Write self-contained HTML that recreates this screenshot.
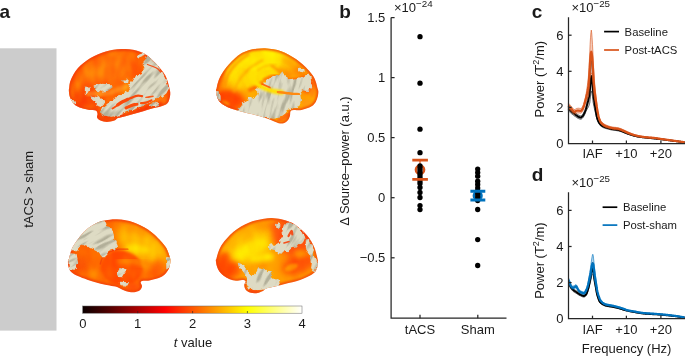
<!DOCTYPE html>
<html><head><meta charset="utf-8"><title>Figure</title>
<style>html,body{margin:0;padding:0;background:#fff}svg{display:block}text{font-family:"Liberation Sans",Arial,Helvetica,sans-serif;fill:#1a1a1a}</style></head><body>
<svg width="685" height="356" viewBox="0 0 685 356">
<rect width="685" height="356" fill="#fff"/>
<defs>
<linearGradient id="hot" x1="0" x2="1" y1="0" y2="0">
<stop offset="0" stop-color="#0b0000"/><stop offset="0.125" stop-color="#550000"/><stop offset="0.25" stop-color="#aa0000"/><stop offset="0.375" stop-color="#ff0000"/><stop offset="0.5" stop-color="#ff5500"/><stop offset="0.625" stop-color="#ffaa00"/><stop offset="0.75" stop-color="#ffff00"/><stop offset="0.875" stop-color="#ffff80"/><stop offset="1" stop-color="#ffffff"/>
</linearGradient>
</defs>

<text x="-0.6" y="17.8" font-size="19" font-weight="bold" fill="#000">a</text>
<text x="339.2" y="17.5" font-size="19" font-weight="bold" fill="#000">b</text>
<text x="531.8" y="17.5" font-size="19" font-weight="bold" fill="#000">c</text>
<text x="531.8" y="181.3" font-size="19" font-weight="bold" fill="#000">d</text>
<rect x="0" y="48.3" width="56.5" height="282.3" fill="#cccccc"/>
<text transform="translate(33.3,189.4) rotate(-90)" text-anchor="middle" font-size="13">tACS &gt; sham</text>
<defs>
<filter id="b05" color-interpolation-filters="sRGB" x="-30%" y="-30%" width="160%" height="160%"><feGaussianBlur stdDeviation="0.5"/></filter>
<filter id="b1" color-interpolation-filters="sRGB" x="-30%" y="-30%" width="160%" height="160%"><feGaussianBlur stdDeviation="1"/></filter>
<filter id="b2" color-interpolation-filters="sRGB" x="-30%" y="-30%" width="160%" height="160%"><feGaussianBlur stdDeviation="2"/></filter>
<filter id="b3" color-interpolation-filters="sRGB" x="-40%" y="-40%" width="180%" height="180%"><feGaussianBlur stdDeviation="3.2"/></filter>
<filter id="b5" color-interpolation-filters="sRGB" x="-50%" y="-50%" width="200%" height="200%"><feGaussianBlur stdDeviation="5"/></filter>
<filter id="rag" x="-10%" y="-10%" width="120%" height="120%" color-interpolation-filters="sRGB"><feTurbulence type="fractalNoise" baseFrequency="0.22" numOctaves="2" seed="4" result="n"/><feDisplacementMap in="SourceGraphic" in2="n" scale="4.5" xChannelSelector="R" yChannelSelector="G"/><feGaussianBlur stdDeviation="0.45"/></filter>
<filter id="gtex" x="0" y="0" width="100%" height="100%" color-interpolation-filters="sRGB"><feTurbulence type="fractalNoise" baseFrequency="0.04 0.21" numOctaves="2" seed="3"/><feColorMatrix type="matrix" values="0 0 0 0 0.872  0 0 0 0 0.858  0 0 0 0 0.77  5.5 0 0 0 -1.8" result="light"/><feFlood flood-color="#b2af99" result="dk"/><feComposite in="light" in2="dk" operator="over"/><feGaussianBlur stdDeviation="0.45"/></filter>
<filter id="otex" x="0" y="0" width="100%" height="100%" color-interpolation-filters="sRGB"><feTurbulence type="fractalNoise" baseFrequency="0.09 0.05" numOctaves="2" seed="11"/><feColorMatrix type="matrix" values="0 0 0 0 1  1.6 0 0 0 -0.45  0 0 0 0 0  0 0 0 0 1"/></filter>
</defs>
<clipPath id="bc1"><path d="M69.0 89.0C69.2 87.8 69.2 85.2 69.7 83.2C70.2 81.2 71.2 78.8 72.2 76.8C73.2 74.8 74.0 73.1 75.4 71.2C76.8 69.3 78.5 67.3 80.4 65.5C82.3 63.7 84.4 62.0 86.7 60.4C89.0 58.8 91.8 57.3 94.3 56.0C96.8 54.7 99.4 53.7 101.9 52.8C104.4 51.9 107.0 51.2 109.5 50.6C112.0 50.0 114.3 49.6 117.0 49.3C119.7 49.0 122.9 49.0 125.6 49.0C128.3 49.1 130.9 49.3 133.2 49.7C135.5 50.1 137.5 50.9 139.5 51.6C141.5 52.3 143.3 53.0 145.2 54.1C147.1 55.2 149.0 56.9 150.8 58.5C152.6 60.1 154.2 61.8 155.9 63.6C157.6 65.4 159.3 67.3 160.9 69.3C162.5 71.3 164.2 73.5 165.4 75.6C166.6 77.7 167.2 79.8 167.9 81.9C168.6 84.0 169.0 86.2 169.4 88.0C169.8 89.8 170.2 91.1 170.3 92.5C170.4 93.9 170.3 95.1 170.0 96.6C169.7 98.1 169.3 100.3 168.5 101.7C167.7 103.1 166.9 104.0 165.4 104.8C163.9 105.6 161.9 106.1 159.7 106.7C157.5 107.3 154.8 107.8 152.1 108.6C149.4 109.3 146.2 110.3 143.3 111.2C140.4 112.1 137.4 112.9 134.4 113.7C131.4 114.5 128.3 115.5 125.6 116.2C122.9 116.9 119.8 117.4 118.0 118.1C116.2 118.8 116.3 120.0 114.5 120.6C112.7 121.2 109.2 121.9 106.9 121.9C104.6 121.9 102.2 121.3 100.6 120.6C99.0 119.9 97.6 118.7 97.1 117.5C96.6 116.3 97.8 114.9 97.5 113.7C97.2 112.5 97.0 111.1 95.6 110.5C94.2 109.9 91.4 110.2 89.3 109.9C87.2 109.6 85.0 109.2 82.9 108.6C80.8 108.0 78.4 107.2 76.6 106.1C74.8 104.9 73.3 103.3 72.2 101.7C71.1 100.1 70.3 98.5 69.7 96.6C69.1 94.7 68.9 91.6 68.8 90.3C68.7 89.0 68.9 90.2 69.0 89.0Z"/></clipPath>
<mask id="gm1" maskUnits="userSpaceOnUse" x="66" y="46" width="108" height="79"><g filter="url(#rag)" fill="#fff" stroke="#fff" stroke-width="1.3" stroke-linejoin="round">
<path d="M147.7 55.5L150.0 56.5L152.1 60.4L157.2 66.1L162.2 73.0L165.4 79.4L167.3 85.7L167.9 89.0L166.0 92.8L162.2 96.0L159.7 94.7L157.2 96.6L154.6 99.2L150.0 101.8L146.0 104.3L140.0 106.3L134.0 108.7L128.0 110.8L122.0 113.2L116.0 115.6L110.0 116.2L104.0 114.8L100.6 112.0L103.0 108.3L108.0 104.0L114.0 100.0L120.0 96.0L126.0 92.5L130.0 90.5L129.1 87.6L131.6 82.6L134.4 78.0L138.0 75.5L142.0 73.7L145.2 68.0L143.3 62.9L146.4 59.2Z"/>
<path d="M94.3 85.9L100.6 84.3L110.7 84.9L112.0 87.0L108.2 89.8L101.9 91.2L96.8 90.2Z"/>
<path d="M91.2 96.0L95.6 97.9L99.4 96.6L101.9 100.4L104.5 102.0L101.9 106.7L98.1 105.5L95.6 101.7L92.4 99.2Z"/>
<path d="M85.5 87.2L89.9 88.4L88.0 91.6L85.5 94.1Z"/>
<path d="M70.9 100.4L74.7 101.1L75.4 104.2L72.2 103.6Z"/>
<path d="M123.0 80.0L128.0 80.3L127.5 82.5L123.5 82.3Z"/>
<path d="M137.0 56.2L144.5 53.4L145.0 54.4L138.0 57.2Z"/>
<path d="M150.0 105.0L158.0 102.5L158.5 104.0L151.0 106.5Z"/>
</g></mask>
<g clip-path="url(#bc1)">
<path d="M69.0 89.0C69.2 87.8 69.2 85.2 69.7 83.2C70.2 81.2 71.2 78.8 72.2 76.8C73.2 74.8 74.0 73.1 75.4 71.2C76.8 69.3 78.5 67.3 80.4 65.5C82.3 63.7 84.4 62.0 86.7 60.4C89.0 58.8 91.8 57.3 94.3 56.0C96.8 54.7 99.4 53.7 101.9 52.8C104.4 51.9 107.0 51.2 109.5 50.6C112.0 50.0 114.3 49.6 117.0 49.3C119.7 49.0 122.9 49.0 125.6 49.0C128.3 49.1 130.9 49.3 133.2 49.7C135.5 50.1 137.5 50.9 139.5 51.6C141.5 52.3 143.3 53.0 145.2 54.1C147.1 55.2 149.0 56.9 150.8 58.5C152.6 60.1 154.2 61.8 155.9 63.6C157.6 65.4 159.3 67.3 160.9 69.3C162.5 71.3 164.2 73.5 165.4 75.6C166.6 77.7 167.2 79.8 167.9 81.9C168.6 84.0 169.0 86.2 169.4 88.0C169.8 89.8 170.2 91.1 170.3 92.5C170.4 93.9 170.3 95.1 170.0 96.6C169.7 98.1 169.3 100.3 168.5 101.7C167.7 103.1 166.9 104.0 165.4 104.8C163.9 105.6 161.9 106.1 159.7 106.7C157.5 107.3 154.8 107.8 152.1 108.6C149.4 109.3 146.2 110.3 143.3 111.2C140.4 112.1 137.4 112.9 134.4 113.7C131.4 114.5 128.3 115.5 125.6 116.2C122.9 116.9 119.8 117.4 118.0 118.1C116.2 118.8 116.3 120.0 114.5 120.6C112.7 121.2 109.2 121.9 106.9 121.9C104.6 121.9 102.2 121.3 100.6 120.6C99.0 119.9 97.6 118.7 97.1 117.5C96.6 116.3 97.8 114.9 97.5 113.7C97.2 112.5 97.0 111.1 95.6 110.5C94.2 109.9 91.4 110.2 89.3 109.9C87.2 109.6 85.0 109.2 82.9 108.6C80.8 108.0 78.4 107.2 76.6 106.1C74.8 104.9 73.3 103.3 72.2 101.7C71.1 100.1 70.3 98.5 69.7 96.6C69.1 94.7 68.9 91.6 68.8 90.3C68.7 89.0 68.9 90.2 69.0 89.0Z" fill="#ff6a04"/>
<ellipse cx="105" cy="72" rx="30" ry="16" transform="rotate(-25 105 72)" fill="#ff780a" filter="url(#b5)" opacity="0.9"/>
<ellipse cx="86" cy="99" rx="17" ry="10" transform="rotate(12 86 99)" fill="#fb4604" filter="url(#b3)" opacity="1"/>
<ellipse cx="160" cy="100" rx="8" ry="6" transform="rotate(0 160 100)" fill="#ff7a10" filter="url(#b2)" opacity="0.9"/>
<path d="M88.0 93.5C90.0 93.5 96.0 94.0 100.0 93.8C104.0 93.5 107.7 93.2 112.0 92.0C116.3 90.8 123.7 87.4 126.0 86.5" fill="none" stroke="#ff8e1e" stroke-width="5" stroke-linecap="round" filter="url(#b1)" opacity="1"/>
<path d="M100.0 117.0C102.5 116.9 109.2 117.5 115.0 116.5C120.8 115.5 127.5 113.1 135.0 111.0C142.5 108.9 155.8 105.2 160.0 104.0" fill="none" stroke="#fa4406" stroke-width="5" stroke-linecap="round" filter="url(#b1)" opacity="0.9"/>
<ellipse cx="103" cy="117" rx="6" ry="4" transform="rotate(0 103 117)" fill="#fa4606" filter="url(#b2)" opacity="0.9"/>
<rect x="66" y="46" width="108" height="79" filter="url(#otex)" opacity="0.2"/>
<path d="M69.0 89.0C69.2 87.8 69.2 85.2 69.7 83.2C70.2 81.2 71.2 78.8 72.2 76.8C73.2 74.8 74.0 73.1 75.4 71.2C76.8 69.3 78.5 67.3 80.4 65.5C82.3 63.7 84.4 62.0 86.7 60.4C89.0 58.8 91.8 57.3 94.3 56.0C96.8 54.7 99.4 53.7 101.9 52.8C104.4 51.9 107.0 51.2 109.5 50.6C112.0 50.0 114.3 49.6 117.0 49.3C119.7 49.0 122.9 49.0 125.6 49.0C128.3 49.1 130.9 49.3 133.2 49.7C135.5 50.1 137.5 50.9 139.5 51.6C141.5 52.3 143.3 53.0 145.2 54.1C147.1 55.2 149.0 56.9 150.8 58.5C152.6 60.1 154.2 61.8 155.9 63.6C157.6 65.4 159.3 67.3 160.9 69.3C162.5 71.3 164.2 73.5 165.4 75.6C166.6 77.7 167.2 79.8 167.9 81.9C168.6 84.0 169.0 86.2 169.4 88.0C169.8 89.8 170.2 91.1 170.3 92.5C170.4 93.9 170.3 95.1 170.0 96.6C169.7 98.1 169.3 100.3 168.5 101.7C167.7 103.1 166.9 104.0 165.4 104.8C163.9 105.6 161.9 106.1 159.7 106.7C157.5 107.3 154.8 107.8 152.1 108.6C149.4 109.3 146.2 110.3 143.3 111.2C140.4 112.1 137.4 112.9 134.4 113.7C131.4 114.5 128.3 115.5 125.6 116.2C122.9 116.9 119.8 117.4 118.0 118.1C116.2 118.8 116.3 120.0 114.5 120.6C112.7 121.2 109.2 121.9 106.9 121.9C104.6 121.9 102.2 121.3 100.6 120.6C99.0 119.9 97.6 118.7 97.1 117.5C96.6 116.3 97.8 114.9 97.5 113.7C97.2 112.5 97.0 111.1 95.6 110.5C94.2 109.9 91.4 110.2 89.3 109.9C87.2 109.6 85.0 109.2 82.9 108.6C80.8 108.0 78.4 107.2 76.6 106.1C74.8 104.9 73.3 103.3 72.2 101.7C71.1 100.1 70.3 98.5 69.7 96.6C69.1 94.7 68.9 91.6 68.8 90.3C68.7 89.0 68.9 90.2 69.0 89.0Z" fill="none" stroke="#f0380c" stroke-width="3.5" filter="url(#b1)" opacity="0.8"/>
<g mask="url(#gm1)"><g transform="rotate(-48 120 85)"><rect x="45" y="10" width="150" height="150" fill="#cfccb4" filter="url(#gtex)"/></g></g>
<path d="M147.5 64.5C148.4 64.8 151.2 65.8 153.0 66.5C154.8 67.2 156.8 68.1 158.0 69.0C159.2 69.9 160.1 71.5 160.5 72.0" fill="none" stroke="#f5501a" stroke-width="1.3" stroke-linecap="round" filter="url(#b05)" opacity="1"/><path d="M117.7 104.8C118.6 104.2 121.3 102.4 123.0 101.5C124.7 100.6 127.0 99.7 127.8 99.3" fill="none" stroke="#fa4a0c" stroke-width="3.2" stroke-linecap="round" filter="url(#b05)" opacity="1"/><path d="M127.8 99.3C129.3 98.7 134.3 96.3 136.7 95.8C139.1 95.3 141.1 96.1 142.0 96.2" fill="none" stroke="#fa4a0c" stroke-width="2.2" stroke-linecap="round" filter="url(#b05)" opacity="1"/><path d="M126.0 108.0C127.2 107.5 131.1 105.6 132.9 105.0C134.7 104.4 136.3 104.3 137.0 104.2" fill="none" stroke="#fb4e0c" stroke-width="3" stroke-linecap="round" filter="url(#b05)" opacity="1"/><path d="M141.0 103.2C141.8 103.1 144.2 103.1 146.0 102.6C147.8 102.1 150.6 100.7 151.5 100.3" fill="none" stroke="#fb4e0c" stroke-width="2.2" stroke-linecap="round" filter="url(#b05)" opacity="1"/><path d="M112.5 108.5C113.4 107.9 117.1 105.6 118.0 105.0" fill="none" stroke="#fb4e0c" stroke-width="2" stroke-linecap="round" filter="url(#b05)" opacity="1"/><path d="M146.0 97.5C147.2 97.3 151.8 96.4 153.0 96.2" fill="none" stroke="#fb4e0c" stroke-width="1.6" stroke-linecap="round" filter="url(#b05)" opacity="0.9"/>
</g>
<path d="M69.0 89.0C69.2 87.8 69.2 85.2 69.7 83.2C70.2 81.2 71.2 78.8 72.2 76.8C73.2 74.8 74.0 73.1 75.4 71.2C76.8 69.3 78.5 67.3 80.4 65.5C82.3 63.7 84.4 62.0 86.7 60.4C89.0 58.8 91.8 57.3 94.3 56.0C96.8 54.7 99.4 53.7 101.9 52.8C104.4 51.9 107.0 51.2 109.5 50.6C112.0 50.0 114.3 49.6 117.0 49.3C119.7 49.0 122.9 49.0 125.6 49.0C128.3 49.1 130.9 49.3 133.2 49.7C135.5 50.1 137.5 50.9 139.5 51.6C141.5 52.3 143.3 53.0 145.2 54.1C147.1 55.2 149.0 56.9 150.8 58.5C152.6 60.1 154.2 61.8 155.9 63.6C157.6 65.4 159.3 67.3 160.9 69.3C162.5 71.3 164.2 73.5 165.4 75.6C166.6 77.7 167.2 79.8 167.9 81.9C168.6 84.0 169.0 86.2 169.4 88.0C169.8 89.8 170.2 91.1 170.3 92.5C170.4 93.9 170.3 95.1 170.0 96.6C169.7 98.1 169.3 100.3 168.5 101.7C167.7 103.1 166.9 104.0 165.4 104.8C163.9 105.6 161.9 106.1 159.7 106.7C157.5 107.3 154.8 107.8 152.1 108.6C149.4 109.3 146.2 110.3 143.3 111.2C140.4 112.1 137.4 112.9 134.4 113.7C131.4 114.5 128.3 115.5 125.6 116.2C122.9 116.9 119.8 117.4 118.0 118.1C116.2 118.8 116.3 120.0 114.5 120.6C112.7 121.2 109.2 121.9 106.9 121.9C104.6 121.9 102.2 121.3 100.6 120.6C99.0 119.9 97.6 118.7 97.1 117.5C96.6 116.3 97.8 114.9 97.5 113.7C97.2 112.5 97.0 111.1 95.6 110.5C94.2 109.9 91.4 110.2 89.3 109.9C87.2 109.6 85.0 109.2 82.9 108.6C80.8 108.0 78.4 107.2 76.6 106.1C74.8 104.9 73.3 103.3 72.2 101.7C71.1 100.1 70.3 98.5 69.7 96.6C69.1 94.7 68.9 91.6 68.8 90.3C68.7 89.0 68.9 90.2 69.0 89.0Z" fill="none" stroke="#fff" stroke-opacity="0.12" stroke-width="0.6"/>
<clipPath id="bc2"><path d="M216.4 89.0C216.7 87.8 217.1 85.2 217.7 83.2C218.3 81.2 219.1 78.9 220.2 76.8C221.2 74.7 222.5 72.6 224.0 70.5C225.5 68.4 227.2 66.2 229.0 64.2C230.8 62.2 232.7 60.3 234.7 58.5C236.7 56.7 238.7 54.9 241.0 53.5C243.3 52.1 246.1 51.1 248.6 50.3C251.1 49.5 253.5 49.1 256.2 48.8C258.9 48.4 262.1 48.1 265.0 48.2C267.9 48.3 270.9 48.8 273.6 49.3C276.3 49.8 278.7 50.4 281.2 51.3C283.7 52.2 286.2 53.4 288.7 54.7C291.2 56.0 294.0 57.6 296.3 59.2C298.6 60.8 300.5 62.3 302.6 64.2C304.7 66.1 307.1 68.5 308.9 70.5C310.7 72.5 312.2 74.3 313.4 76.2C314.6 78.1 315.2 79.9 315.9 81.9C316.6 83.9 317.1 86.4 317.5 88.0C317.9 89.6 318.3 90.1 318.4 91.5C318.4 92.9 318.2 94.9 317.8 96.6C317.4 98.3 316.8 100.1 315.9 101.7C314.9 103.3 313.7 104.9 312.1 106.1C310.5 107.2 308.4 107.9 306.4 108.6C304.4 109.3 302.2 110.1 300.1 110.3C298.0 110.5 295.4 109.8 293.8 109.9C292.2 110.1 291.2 110.2 290.6 111.2C290.0 112.2 290.4 114.1 290.0 115.6C289.6 117.1 289.2 118.7 288.1 120.0C287.1 121.3 285.3 122.7 283.7 123.2C282.1 123.7 280.3 123.5 278.6 123.2C276.9 122.9 275.4 122.0 273.6 121.3C271.8 120.5 269.9 119.5 267.6 118.7C265.3 117.9 262.5 116.9 260.0 116.2C257.5 115.5 254.9 114.9 252.4 114.3C249.9 113.7 247.3 113.0 244.8 112.4C242.3 111.8 239.6 111.1 237.3 110.5C235.0 109.9 233.0 109.4 230.9 108.6C228.8 107.8 226.5 106.7 224.6 105.5C222.7 104.3 220.9 103.2 219.6 101.7C218.3 100.2 217.6 98.5 217.0 96.6C216.4 94.7 216.1 91.6 216.0 90.3C215.9 89.0 216.1 90.2 216.4 89.0Z"/></clipPath>
<mask id="gm2" maskUnits="userSpaceOnUse" x="213" y="45" width="108" height="81"><g filter="url(#rag)" fill="#fff" stroke="#fff" stroke-width="1.3" stroke-linejoin="round">
<path d="M237.3 111.0L241.7 106.7L243.6 103.6L248.6 101.0L249.9 96.6L253.0 99.8L258.7 96.6L259.4 92.8L256.8 90.3L260.6 87.8L266.0 81.9L271.0 78.1L274.8 75.6L278.6 77.5L281.8 73.0L285.0 75.6L286.8 80.0L292.5 79.4L298.8 78.1L303.9 78.1L308.9 74.3L310.8 76.8L311.5 81.9L310.2 89.0L307.7 90.3L301.4 89.7L299.5 94.1L300.7 100.4L298.8 105.5L291.3 108.6L287.5 109.3L285.0 113.0L279.9 116.8L273.6 118.1L269.8 117.5L262.0 117.0L252.0 114.5L244.0 112.8Z"/>
<path d="M215.0 91.6L219.5 92.0L220.2 99.2L217.0 98.5Z"/>
<path d="M299.0 68.5L302.0 69.0L303.0 71.5L300.0 71.0Z"/>
</g></mask>
<g clip-path="url(#bc2)">
<path d="M216.4 89.0C216.7 87.8 217.1 85.2 217.7 83.2C218.3 81.2 219.1 78.9 220.2 76.8C221.2 74.7 222.5 72.6 224.0 70.5C225.5 68.4 227.2 66.2 229.0 64.2C230.8 62.2 232.7 60.3 234.7 58.5C236.7 56.7 238.7 54.9 241.0 53.5C243.3 52.1 246.1 51.1 248.6 50.3C251.1 49.5 253.5 49.1 256.2 48.8C258.9 48.4 262.1 48.1 265.0 48.2C267.9 48.3 270.9 48.8 273.6 49.3C276.3 49.8 278.7 50.4 281.2 51.3C283.7 52.2 286.2 53.4 288.7 54.7C291.2 56.0 294.0 57.6 296.3 59.2C298.6 60.8 300.5 62.3 302.6 64.2C304.7 66.1 307.1 68.5 308.9 70.5C310.7 72.5 312.2 74.3 313.4 76.2C314.6 78.1 315.2 79.9 315.9 81.9C316.6 83.9 317.1 86.4 317.5 88.0C317.9 89.6 318.3 90.1 318.4 91.5C318.4 92.9 318.2 94.9 317.8 96.6C317.4 98.3 316.8 100.1 315.9 101.7C314.9 103.3 313.7 104.9 312.1 106.1C310.5 107.2 308.4 107.9 306.4 108.6C304.4 109.3 302.2 110.1 300.1 110.3C298.0 110.5 295.4 109.8 293.8 109.9C292.2 110.1 291.2 110.2 290.6 111.2C290.0 112.2 290.4 114.1 290.0 115.6C289.6 117.1 289.2 118.7 288.1 120.0C287.1 121.3 285.3 122.7 283.7 123.2C282.1 123.7 280.3 123.5 278.6 123.2C276.9 122.9 275.4 122.0 273.6 121.3C271.8 120.5 269.9 119.5 267.6 118.7C265.3 117.9 262.5 116.9 260.0 116.2C257.5 115.5 254.9 114.9 252.4 114.3C249.9 113.7 247.3 113.0 244.8 112.4C242.3 111.8 239.6 111.1 237.3 110.5C235.0 109.9 233.0 109.4 230.9 108.6C228.8 107.8 226.5 106.7 224.6 105.5C222.7 104.3 220.9 103.2 219.6 101.7C218.3 100.2 217.6 98.5 217.0 96.6C216.4 94.7 216.1 91.6 216.0 90.3C215.9 89.0 216.1 90.2 216.4 89.0Z" fill="#ffac00"/>
<ellipse cx="258" cy="66" rx="38" ry="18" transform="rotate(-14 258 66)" fill="#ffec00" filter="url(#b3)" opacity="1"/>
<ellipse cx="262" cy="60" rx="27" ry="10" transform="rotate(-5 262 60)" fill="#fff200" filter="url(#b2)" opacity="1"/>
<ellipse cx="246" cy="72" rx="16" ry="9" transform="rotate(-40 246 72)" fill="#ffee00" filter="url(#b2)" opacity="0.9"/>
<ellipse cx="244" cy="80" rx="20" ry="7" transform="rotate(-38 244 80)" fill="#ffd800" filter="url(#b3)" opacity="0.9"/>
<ellipse cx="253" cy="77" rx="9" ry="7" transform="rotate(-50 253 77)" fill="#ffe800" filter="url(#b2)" opacity="1"/>
<ellipse cx="262" cy="62" rx="22" ry="8" transform="rotate(-8 262 62)" fill="#fff400" filter="url(#b1)" opacity="0.85"/>
<ellipse cx="229" cy="100" rx="17" ry="10" transform="rotate(12 229 100)" fill="#ff4800" filter="url(#b3)" opacity="1"/>
<ellipse cx="226" cy="98" rx="10" ry="6" transform="rotate(12 226 98)" fill="#ff4600" filter="url(#b2)" opacity="0.9"/>
<ellipse cx="221" cy="80" rx="4" ry="12" transform="rotate(12 221 80)" fill="#ff7200" filter="url(#b2)" opacity="0.8"/>
<ellipse cx="225" cy="103.5" rx="4.5" ry="2.2" transform="rotate(20 225 103.5)" fill="#ff9a00" filter="url(#b1)" opacity="0.95"/>
<ellipse cx="292" cy="64" rx="12" ry="6" transform="rotate(35 292 64)" fill="#ffb000" filter="url(#b3)" opacity="1"/>
<ellipse cx="300" cy="72" rx="7" ry="4" transform="rotate(40 300 72)" fill="#ff8a00" filter="url(#b2)" opacity="0.9"/>
<ellipse cx="284" cy="72" rx="8" ry="3.5" transform="rotate(30 284 72)" fill="#ff7a00" filter="url(#b2)" opacity="0.6"/>
<ellipse cx="307" cy="84" rx="7" ry="9" transform="rotate(0 307 84)" fill="#ff4810" filter="url(#b2)" opacity="0.95"/>
<ellipse cx="312.5" cy="92" rx="2.6" ry="5.5" transform="rotate(5 312.5 92)" fill="#ff8c10" filter="url(#b1)" opacity="0.9"/>
<ellipse cx="306.5" cy="103" rx="4.5" ry="3.5" transform="rotate(-20 306.5 103)" fill="#ffa010" filter="url(#b1)" opacity="0.95"/>
<path d="M243.8 70.0C244.0 71.3 244.4 75.5 245.0 78.0C245.6 80.5 247.2 84.1 247.6 85.3" fill="none" stroke="#ffe600" stroke-width="3.5" stroke-linecap="round" filter="url(#b1)" opacity="0.9"/>
<path d="M224.0 86.0C224.8 83.8 226.7 77.0 229.0 73.0C231.3 69.0 234.8 65.1 238.0 62.0C241.2 58.9 246.3 55.8 248.0 54.5" fill="none" stroke="#ff9800" stroke-width="3" stroke-linecap="round" filter="url(#b1)" opacity="0.7"/>
<path d="M234.0 91.0C235.0 89.0 237.3 82.8 240.0 79.0C242.7 75.2 246.3 71.1 250.0 68.0C253.7 64.9 260.0 61.8 262.0 60.5" fill="none" stroke="#ffa400" stroke-width="2.6" stroke-linecap="round" filter="url(#b1)" opacity="0.6"/>
<path d="M258.0 70.0C259.3 69.3 263.0 66.8 266.0 66.0C269.0 65.2 274.3 65.2 276.0 65.0" fill="none" stroke="#ffae00" stroke-width="2.2" stroke-linecap="round" filter="url(#b1)" opacity="0.5"/>
<path d="M272.0 66.0C273.2 66.8 277.2 69.2 279.0 71.0C280.8 72.8 282.3 76.0 283.0 77.0" fill="none" stroke="#ff9000" stroke-width="2.5" stroke-linecap="round" filter="url(#b1)" opacity="0.7"/>
<path d="M250.0 90.0C251.3 89.3 256.0 87.2 258.0 86.0C260.0 84.8 261.3 83.5 262.0 83.0" fill="none" stroke="#ff5a00" stroke-width="3.5" stroke-linecap="round" filter="url(#b1)" opacity="0.8"/>
<path d="M264.0 80.0C265.8 79.3 270.7 76.0 275.0 76.0C279.3 76.0 285.0 79.7 290.0 80.0C295.0 80.3 302.5 78.3 305.0 78.0" fill="none" stroke="#ff4a08" stroke-width="3" stroke-linecap="round" filter="url(#b1)" opacity="0.7"/>
<path d="M280.0 119.5C281.2 118.8 285.8 115.8 287.0 115.0" fill="none" stroke="#ff6a10" stroke-width="5" stroke-linecap="round" filter="url(#b1)" opacity="0.9"/>
<rect x="213" y="45" width="108" height="81" filter="url(#otex)" opacity="0.08"/>
<path d="M216.4 89.0C216.7 87.8 217.1 85.2 217.7 83.2C218.3 81.2 219.1 78.9 220.2 76.8C221.2 74.7 222.5 72.6 224.0 70.5C225.5 68.4 227.2 66.2 229.0 64.2C230.8 62.2 232.7 60.3 234.7 58.5C236.7 56.7 238.7 54.9 241.0 53.5C243.3 52.1 246.1 51.1 248.6 50.3C251.1 49.5 253.5 49.1 256.2 48.8C258.9 48.4 262.1 48.1 265.0 48.2C267.9 48.3 270.9 48.8 273.6 49.3C276.3 49.8 278.7 50.4 281.2 51.3C283.7 52.2 286.2 53.4 288.7 54.7C291.2 56.0 294.0 57.6 296.3 59.2C298.6 60.8 300.5 62.3 302.6 64.2C304.7 66.1 307.1 68.5 308.9 70.5C310.7 72.5 312.2 74.3 313.4 76.2C314.6 78.1 315.2 79.9 315.9 81.9C316.6 83.9 317.1 86.4 317.5 88.0C317.9 89.6 318.3 90.1 318.4 91.5C318.4 92.9 318.2 94.9 317.8 96.6C317.4 98.3 316.8 100.1 315.9 101.7C314.9 103.3 313.7 104.9 312.1 106.1C310.5 107.2 308.4 107.9 306.4 108.6C304.4 109.3 302.2 110.1 300.1 110.3C298.0 110.5 295.4 109.8 293.8 109.9C292.2 110.1 291.2 110.2 290.6 111.2C290.0 112.2 290.4 114.1 290.0 115.6C289.6 117.1 289.2 118.7 288.1 120.0C287.1 121.3 285.3 122.7 283.7 123.2C282.1 123.7 280.3 123.5 278.6 123.2C276.9 122.9 275.4 122.0 273.6 121.3C271.8 120.5 269.9 119.5 267.6 118.7C265.3 117.9 262.5 116.9 260.0 116.2C257.5 115.5 254.9 114.9 252.4 114.3C249.9 113.7 247.3 113.0 244.8 112.4C242.3 111.8 239.6 111.1 237.3 110.5C235.0 109.9 233.0 109.4 230.9 108.6C228.8 107.8 226.5 106.7 224.6 105.5C222.7 104.3 220.9 103.2 219.6 101.7C218.3 100.2 217.6 98.5 217.0 96.6C216.4 94.7 216.1 91.6 216.0 90.3C215.9 89.0 216.1 90.2 216.4 89.0Z" fill="none" stroke="#f0380c" stroke-width="3.5" filter="url(#b1)" opacity="0.8"/>
<g mask="url(#gm2)"><g transform="rotate(-75 267 86)"><rect x="192" y="11" width="150" height="150" fill="#cfccb4" filter="url(#gtex)"/></g></g>
<path d="M252.6 72.6C252.8 73.9 252.8 78.1 253.9 80.2C255.0 82.3 257.1 83.9 259.0 85.3C260.9 86.7 263.0 87.5 265.3 88.4C267.6 89.4 270.1 90.3 272.8 91.0C275.5 91.7 280.2 92.2 281.7 92.4" fill="none" stroke="#ffe000" stroke-width="4.6" stroke-linecap="round" filter="url(#b1)" opacity="1"/><path d="M278.0 92.0C279.3 92.2 283.7 92.7 286.0 93.0C288.3 93.3 289.8 93.6 292.0 93.8C294.2 94.0 297.8 94.2 299.0 94.3" fill="none" stroke="#ff8a10" stroke-width="2.6" stroke-linecap="round" filter="url(#b05)" opacity="1"/><path d="M262.0 84.0C263.3 84.6 268.7 87.0 270.0 87.6" fill="none" stroke="#ff5a08" stroke-width="1.6" stroke-linecap="round" filter="url(#b05)" opacity="0.9"/>
</g>
<path d="M216.4 89.0C216.7 87.8 217.1 85.2 217.7 83.2C218.3 81.2 219.1 78.9 220.2 76.8C221.2 74.7 222.5 72.6 224.0 70.5C225.5 68.4 227.2 66.2 229.0 64.2C230.8 62.2 232.7 60.3 234.7 58.5C236.7 56.7 238.7 54.9 241.0 53.5C243.3 52.1 246.1 51.1 248.6 50.3C251.1 49.5 253.5 49.1 256.2 48.8C258.9 48.4 262.1 48.1 265.0 48.2C267.9 48.3 270.9 48.8 273.6 49.3C276.3 49.8 278.7 50.4 281.2 51.3C283.7 52.2 286.2 53.4 288.7 54.7C291.2 56.0 294.0 57.6 296.3 59.2C298.6 60.8 300.5 62.3 302.6 64.2C304.7 66.1 307.1 68.5 308.9 70.5C310.7 72.5 312.2 74.3 313.4 76.2C314.6 78.1 315.2 79.9 315.9 81.9C316.6 83.9 317.1 86.4 317.5 88.0C317.9 89.6 318.3 90.1 318.4 91.5C318.4 92.9 318.2 94.9 317.8 96.6C317.4 98.3 316.8 100.1 315.9 101.7C314.9 103.3 313.7 104.9 312.1 106.1C310.5 107.2 308.4 107.9 306.4 108.6C304.4 109.3 302.2 110.1 300.1 110.3C298.0 110.5 295.4 109.8 293.8 109.9C292.2 110.1 291.2 110.2 290.6 111.2C290.0 112.2 290.4 114.1 290.0 115.6C289.6 117.1 289.2 118.7 288.1 120.0C287.1 121.3 285.3 122.7 283.7 123.2C282.1 123.7 280.3 123.5 278.6 123.2C276.9 122.9 275.4 122.0 273.6 121.3C271.8 120.5 269.9 119.5 267.6 118.7C265.3 117.9 262.5 116.9 260.0 116.2C257.5 115.5 254.9 114.9 252.4 114.3C249.9 113.7 247.3 113.0 244.8 112.4C242.3 111.8 239.6 111.1 237.3 110.5C235.0 109.9 233.0 109.4 230.9 108.6C228.8 107.8 226.5 106.7 224.6 105.5C222.7 104.3 220.9 103.2 219.6 101.7C218.3 100.2 217.6 98.5 217.0 96.6C216.4 94.7 216.1 91.6 216.0 90.3C215.9 89.0 216.1 90.2 216.4 89.0Z" fill="none" stroke="#fff" stroke-opacity="0.12" stroke-width="0.6"/>
<clipPath id="bc3"><path d="M69.0 259.0C69.4 257.8 69.7 255.2 70.3 253.2C70.9 251.2 71.5 249.1 72.8 246.8C74.1 244.5 76.2 241.6 77.9 239.3C79.6 237.0 81.0 234.9 82.9 232.9C84.8 230.9 87.2 228.9 89.3 227.3C91.4 225.7 93.5 224.6 95.6 223.5C97.7 222.4 99.6 221.5 101.9 220.9C104.2 220.3 107.0 220.0 109.5 219.7C112.0 219.4 114.3 219.2 117.0 219.3C119.7 219.4 122.9 219.8 125.6 220.3C128.3 220.8 130.7 221.3 133.2 222.2C135.7 223.0 138.2 224.1 140.7 225.4C143.2 226.7 146.0 228.2 148.3 229.8C150.6 231.4 152.5 232.9 154.6 234.8C156.7 236.7 159.0 239.1 160.9 241.2C162.8 243.3 164.7 245.5 166.0 247.5C167.3 249.5 167.8 251.4 168.5 253.2C169.2 254.9 169.7 256.7 170.0 258.0C170.3 259.3 170.4 259.8 170.4 261.0C170.4 262.2 170.2 263.8 169.8 265.4C169.4 267.0 169.0 268.7 167.9 270.4C166.8 272.1 165.3 274.1 163.5 275.5C161.7 276.9 159.5 277.8 157.2 278.6C154.9 279.4 151.9 280.1 149.6 280.5C147.3 280.9 144.8 280.5 143.3 280.8C141.8 281.1 140.9 281.5 140.7 282.4C140.5 283.3 142.1 284.9 142.0 286.2C141.9 287.5 141.2 289.1 140.1 290.0C139.0 290.9 137.5 291.6 135.7 291.9C133.9 292.2 131.5 292.2 129.4 291.9C127.3 291.6 125.1 290.8 123.0 290.0C120.9 289.2 119.2 287.8 117.0 287.1C114.8 286.4 112.2 286.2 109.5 285.6C106.8 285.0 103.5 284.4 100.6 283.7C97.6 283.0 94.5 282.0 91.8 281.2C89.1 280.4 86.7 279.6 84.2 278.6C81.7 277.7 78.8 276.6 76.6 275.5C74.4 274.4 72.3 273.2 70.9 271.7C69.5 270.2 68.9 268.5 68.4 266.6C67.9 264.7 67.9 261.6 68.0 260.3C68.1 259.0 68.7 260.2 69.0 259.0Z"/></clipPath>
<mask id="gm3" maskUnits="userSpaceOnUse" x="65" y="216" width="108" height="79"><g filter="url(#rag)" fill="#fff" stroke="#fff" stroke-width="1.3" stroke-linejoin="round">
<path d="M70.0 250.0L74.0 237.0L80.0 229.0L87.0 223.5L94.0 219.5L101.9 218.0L104.4 222.2L105.7 226.6L110.7 227.9L112.6 232.9L113.9 239.3L117.0 245.6L114.5 248.7L109.5 250.0L105.7 254.4L101.9 255.7L99.4 251.9L94.3 249.4L89.3 246.8L85.5 244.3L82.9 245.6L80.4 242.4L79.2 246.8L76.6 250.6L74.1 249.4Z"/>
<path d="M68.5 254.0L76.0 254.5L77.5 262.0L75.0 269.0L69.5 268.0Z"/>
<path d="M117.5 271.5L120.0 268.5L123.0 269.5L125.0 271.0L123.0 274.0L121.5 276.5L118.5 276.0Z"/>
<path d="M120.5 282.4L128.0 283.0L127.0 285.0L121.0 284.6Z"/>
<path d="M166.6 258.0L170.5 257.8L170.5 269.2L167.0 268.0Z"/>
<path d="M101.0 254.0L105.0 253.5L104.5 256.5L101.5 256.5Z"/>
</g></mask>
<g clip-path="url(#bc3)">
<path d="M69.0 259.0C69.4 257.8 69.7 255.2 70.3 253.2C70.9 251.2 71.5 249.1 72.8 246.8C74.1 244.5 76.2 241.6 77.9 239.3C79.6 237.0 81.0 234.9 82.9 232.9C84.8 230.9 87.2 228.9 89.3 227.3C91.4 225.7 93.5 224.6 95.6 223.5C97.7 222.4 99.6 221.5 101.9 220.9C104.2 220.3 107.0 220.0 109.5 219.7C112.0 219.4 114.3 219.2 117.0 219.3C119.7 219.4 122.9 219.8 125.6 220.3C128.3 220.8 130.7 221.3 133.2 222.2C135.7 223.0 138.2 224.1 140.7 225.4C143.2 226.7 146.0 228.2 148.3 229.8C150.6 231.4 152.5 232.9 154.6 234.8C156.7 236.7 159.0 239.1 160.9 241.2C162.8 243.3 164.7 245.5 166.0 247.5C167.3 249.5 167.8 251.4 168.5 253.2C169.2 254.9 169.7 256.7 170.0 258.0C170.3 259.3 170.4 259.8 170.4 261.0C170.4 262.2 170.2 263.8 169.8 265.4C169.4 267.0 169.0 268.7 167.9 270.4C166.8 272.1 165.3 274.1 163.5 275.5C161.7 276.9 159.5 277.8 157.2 278.6C154.9 279.4 151.9 280.1 149.6 280.5C147.3 280.9 144.8 280.5 143.3 280.8C141.8 281.1 140.9 281.5 140.7 282.4C140.5 283.3 142.1 284.9 142.0 286.2C141.9 287.5 141.2 289.1 140.1 290.0C139.0 290.9 137.5 291.6 135.7 291.9C133.9 292.2 131.5 292.2 129.4 291.9C127.3 291.6 125.1 290.8 123.0 290.0C120.9 289.2 119.2 287.8 117.0 287.1C114.8 286.4 112.2 286.2 109.5 285.6C106.8 285.0 103.5 284.4 100.6 283.7C97.6 283.0 94.5 282.0 91.8 281.2C89.1 280.4 86.7 279.6 84.2 278.6C81.7 277.7 78.8 276.6 76.6 275.5C74.4 274.4 72.3 273.2 70.9 271.7C69.5 270.2 68.9 268.5 68.4 266.6C67.9 264.7 67.9 261.6 68.0 260.3C68.1 259.0 68.7 260.2 69.0 259.0Z" fill="#ff6e00"/>
<ellipse cx="146" cy="246" rx="34" ry="20" transform="rotate(30 146 246)" fill="#ffa600" filter="url(#b3)" opacity="1"/>
<ellipse cx="144" cy="247" rx="26" ry="11" transform="rotate(24 144 247)" fill="#ffc400" filter="url(#b3)" opacity="1"/>
<ellipse cx="137" cy="248.8" rx="12" ry="4.3" transform="rotate(8 137 248.8)" fill="#ffe800" filter="url(#b2)" opacity="1"/>
<ellipse cx="121.5" cy="268" rx="21" ry="17" transform="rotate(8 121.5 268)" fill="#ff4e02" filter="url(#b1)" opacity="0.95"/>
<path d="M120.0 261.0C122.5 261.1 129.7 260.7 135.0 261.5C140.3 262.3 149.2 265.2 152.0 266.0" fill="none" stroke="#ff8a00" stroke-width="6" stroke-linecap="round" filter="url(#b2)" opacity="0.85"/>
<path d="M100.3 264.0C100.7 262.9 100.9 259.8 102.6 257.7C104.2 255.6 107.5 253.0 110.2 251.6C112.9 250.2 116.0 249.6 119.0 249.2C122.0 248.8 126.4 249.2 127.9 249.2" fill="none" stroke="#f2400a" stroke-width="1.3" stroke-linecap="round" filter="url(#b05)" opacity="0.8"/>
<ellipse cx="95" cy="274" rx="8" ry="4" transform="rotate(15 95 274)" fill="#ff8a00" filter="url(#b2)" opacity="0.7"/>
<ellipse cx="133" cy="287" rx="8" ry="4" transform="rotate(0 133 287)" fill="#ff5a0a" filter="url(#b2)" opacity="0.9"/>
<ellipse cx="80" cy="264" rx="9" ry="9" transform="rotate(0 80 264)" fill="#fb4806" filter="url(#b3)" opacity="0.9"/>
<ellipse cx="158" cy="268" rx="9" ry="7" transform="rotate(-30 158 268)" fill="#ff5c06" filter="url(#b3)" opacity="0.8"/>
<rect x="65" y="216" width="108" height="79" filter="url(#otex)" opacity="0.1"/>
<path d="M69.0 259.0C69.4 257.8 69.7 255.2 70.3 253.2C70.9 251.2 71.5 249.1 72.8 246.8C74.1 244.5 76.2 241.6 77.9 239.3C79.6 237.0 81.0 234.9 82.9 232.9C84.8 230.9 87.2 228.9 89.3 227.3C91.4 225.7 93.5 224.6 95.6 223.5C97.7 222.4 99.6 221.5 101.9 220.9C104.2 220.3 107.0 220.0 109.5 219.7C112.0 219.4 114.3 219.2 117.0 219.3C119.7 219.4 122.9 219.8 125.6 220.3C128.3 220.8 130.7 221.3 133.2 222.2C135.7 223.0 138.2 224.1 140.7 225.4C143.2 226.7 146.0 228.2 148.3 229.8C150.6 231.4 152.5 232.9 154.6 234.8C156.7 236.7 159.0 239.1 160.9 241.2C162.8 243.3 164.7 245.5 166.0 247.5C167.3 249.5 167.8 251.4 168.5 253.2C169.2 254.9 169.7 256.7 170.0 258.0C170.3 259.3 170.4 259.8 170.4 261.0C170.4 262.2 170.2 263.8 169.8 265.4C169.4 267.0 169.0 268.7 167.9 270.4C166.8 272.1 165.3 274.1 163.5 275.5C161.7 276.9 159.5 277.8 157.2 278.6C154.9 279.4 151.9 280.1 149.6 280.5C147.3 280.9 144.8 280.5 143.3 280.8C141.8 281.1 140.9 281.5 140.7 282.4C140.5 283.3 142.1 284.9 142.0 286.2C141.9 287.5 141.2 289.1 140.1 290.0C139.0 290.9 137.5 291.6 135.7 291.9C133.9 292.2 131.5 292.2 129.4 291.9C127.3 291.6 125.1 290.8 123.0 290.0C120.9 289.2 119.2 287.8 117.0 287.1C114.8 286.4 112.2 286.2 109.5 285.6C106.8 285.0 103.5 284.4 100.6 283.7C97.6 283.0 94.5 282.0 91.8 281.2C89.1 280.4 86.7 279.6 84.2 278.6C81.7 277.7 78.8 276.6 76.6 275.5C74.4 274.4 72.3 273.2 70.9 271.7C69.5 270.2 68.9 268.5 68.4 266.6C67.9 264.7 67.9 261.6 68.0 260.3C68.1 259.0 68.7 260.2 69.0 259.0Z" fill="none" stroke="#f0380c" stroke-width="3.5" filter="url(#b1)" opacity="0.8"/>
<g mask="url(#gm3)"><g transform="rotate(-30 119 256)"><rect x="44" y="181" width="150" height="150" fill="#cfccb4" filter="url(#gtex)"/></g></g>

</g>
<path d="M69.0 259.0C69.4 257.8 69.7 255.2 70.3 253.2C70.9 251.2 71.5 249.1 72.8 246.8C74.1 244.5 76.2 241.6 77.9 239.3C79.6 237.0 81.0 234.9 82.9 232.9C84.8 230.9 87.2 228.9 89.3 227.3C91.4 225.7 93.5 224.6 95.6 223.5C97.7 222.4 99.6 221.5 101.9 220.9C104.2 220.3 107.0 220.0 109.5 219.7C112.0 219.4 114.3 219.2 117.0 219.3C119.7 219.4 122.9 219.8 125.6 220.3C128.3 220.8 130.7 221.3 133.2 222.2C135.7 223.0 138.2 224.1 140.7 225.4C143.2 226.7 146.0 228.2 148.3 229.8C150.6 231.4 152.5 232.9 154.6 234.8C156.7 236.7 159.0 239.1 160.9 241.2C162.8 243.3 164.7 245.5 166.0 247.5C167.3 249.5 167.8 251.4 168.5 253.2C169.2 254.9 169.7 256.7 170.0 258.0C170.3 259.3 170.4 259.8 170.4 261.0C170.4 262.2 170.2 263.8 169.8 265.4C169.4 267.0 169.0 268.7 167.9 270.4C166.8 272.1 165.3 274.1 163.5 275.5C161.7 276.9 159.5 277.8 157.2 278.6C154.9 279.4 151.9 280.1 149.6 280.5C147.3 280.9 144.8 280.5 143.3 280.8C141.8 281.1 140.9 281.5 140.7 282.4C140.5 283.3 142.1 284.9 142.0 286.2C141.9 287.5 141.2 289.1 140.1 290.0C139.0 290.9 137.5 291.6 135.7 291.9C133.9 292.2 131.5 292.2 129.4 291.9C127.3 291.6 125.1 290.8 123.0 290.0C120.9 289.2 119.2 287.8 117.0 287.1C114.8 286.4 112.2 286.2 109.5 285.6C106.8 285.0 103.5 284.4 100.6 283.7C97.6 283.0 94.5 282.0 91.8 281.2C89.1 280.4 86.7 279.6 84.2 278.6C81.7 277.7 78.8 276.6 76.6 275.5C74.4 274.4 72.3 273.2 70.9 271.7C69.5 270.2 68.9 268.5 68.4 266.6C67.9 264.7 67.9 261.6 68.0 260.3C68.1 259.0 68.7 260.2 69.0 259.0Z" fill="none" stroke="#fff" stroke-opacity="0.12" stroke-width="0.6"/>
<clipPath id="bc4"><path d="M216.4 259.0C216.8 257.6 217.4 254.3 218.3 251.9C219.2 249.5 220.6 246.6 222.1 244.3C223.6 242.0 225.3 240.1 227.2 238.0C229.1 235.9 231.2 233.6 233.5 231.7C235.8 229.8 238.5 228.1 241.0 226.6C243.5 225.1 246.1 223.9 248.6 222.8C251.1 221.8 253.7 221.0 256.2 220.3C258.7 219.6 261.2 219.2 263.8 218.8C266.4 218.4 269.1 217.9 272.0 218.0C274.9 218.1 278.4 218.7 281.2 219.3C284.0 219.9 286.4 220.7 288.7 221.6C291.0 222.5 293.0 223.3 295.1 224.7C297.2 226.1 299.4 228.0 301.4 229.8C303.4 231.6 305.4 233.5 307.1 235.5C308.8 237.5 310.2 239.7 311.5 241.8C312.8 243.9 313.8 246.0 314.6 248.1C315.4 250.2 316.0 252.6 316.5 254.4C317.0 256.2 317.4 257.7 317.6 259.0C317.9 260.3 318.0 260.7 318.0 262.0C318.0 263.3 317.9 265.0 317.5 266.6C317.1 268.2 316.5 270.2 315.3 271.7C314.1 273.2 312.1 274.4 310.2 275.5C308.3 276.6 306.2 277.7 303.9 278.6C301.6 279.6 298.8 280.5 296.3 281.2C293.8 281.9 291.2 282.4 288.7 283.0C286.2 283.6 283.7 284.3 281.2 284.9C278.7 285.5 276.1 286.2 273.6 286.8C271.1 287.4 267.9 287.9 266.0 288.7C264.1 289.4 264.1 290.6 262.5 291.3C260.9 292.1 258.3 293.0 256.2 293.2C254.1 293.4 251.7 293.1 249.9 292.5C248.1 291.9 246.4 290.6 245.5 289.4C244.6 288.1 244.2 286.4 244.2 285.0C244.2 283.6 245.8 282.1 245.5 281.2C245.2 280.3 243.9 280.0 242.3 279.9C240.7 279.8 238.1 280.9 236.0 280.8C233.9 280.7 231.7 280.1 229.7 279.3C227.7 278.5 225.7 277.4 224.0 276.1C222.3 274.8 220.8 273.3 219.6 271.7C218.4 270.1 217.6 268.5 217.0 266.6C216.4 264.7 215.9 261.6 215.8 260.3C215.7 259.0 216.0 260.4 216.4 259.0Z"/></clipPath>
<mask id="gm4" maskUnits="userSpaceOnUse" x="213" y="215" width="108" height="81"><g filter="url(#rag)" fill="#fff" stroke="#fff" stroke-width="1.3" stroke-linejoin="round">
<path d="M284.9 224.7L288.7 222.8L293.2 224.7L297.6 227.9L302.0 232.3L304.5 237.4L302.6 241.8L298.8 243.7L296.3 246.8L291.3 247.5L288.1 250.6L283.7 250.0L281.2 253.2L277.4 252.5L273.6 249.4L268.5 247.1L271.0 245.0L275.5 245.6L279.3 243.0L281.2 239.3L283.7 235.5L283.0 230.4Z"/>
<path d="M306.4 241.2L309.6 240.5L312.1 245.6L313.4 250.6L312.1 254.4L314.6 259.0L317.5 264.1L316.5 269.2L313.4 271.0L310.8 267.9L311.5 262.8L310.2 256.5L309.6 253.2L307.0 249.4L306.4 245.6Z"/>
<path d="M238.5 263.5L242.3 264.7L245.5 269.2L248.6 274.2L252.4 275.5L256.2 276.1L256.8 271.7L258.7 267.9L263.8 269.2L267.6 272.9L272.0 271.7L269.8 273.0L269.2 277.4L273.6 279.3L278.6 281.2L279.9 285.5L272.0 287.5L267.6 288.5L262.5 289.0L254.9 289.5L248.6 287.5L246.1 282.4L247.4 278.6L246.7 275.5L243.0 270.4L239.2 266.0Z"/>
<path d="M276.7 224.5L278.5 223.5L279.9 226.0L278.0 228.5L276.9 227.5Z"/>
</g></mask>
<g clip-path="url(#bc4)">
<path d="M216.4 259.0C216.8 257.6 217.4 254.3 218.3 251.9C219.2 249.5 220.6 246.6 222.1 244.3C223.6 242.0 225.3 240.1 227.2 238.0C229.1 235.9 231.2 233.6 233.5 231.7C235.8 229.8 238.5 228.1 241.0 226.6C243.5 225.1 246.1 223.9 248.6 222.8C251.1 221.8 253.7 221.0 256.2 220.3C258.7 219.6 261.2 219.2 263.8 218.8C266.4 218.4 269.1 217.9 272.0 218.0C274.9 218.1 278.4 218.7 281.2 219.3C284.0 219.9 286.4 220.7 288.7 221.6C291.0 222.5 293.0 223.3 295.1 224.7C297.2 226.1 299.4 228.0 301.4 229.8C303.4 231.6 305.4 233.5 307.1 235.5C308.8 237.5 310.2 239.7 311.5 241.8C312.8 243.9 313.8 246.0 314.6 248.1C315.4 250.2 316.0 252.6 316.5 254.4C317.0 256.2 317.4 257.7 317.6 259.0C317.9 260.3 318.0 260.7 318.0 262.0C318.0 263.3 317.9 265.0 317.5 266.6C317.1 268.2 316.5 270.2 315.3 271.7C314.1 273.2 312.1 274.4 310.2 275.5C308.3 276.6 306.2 277.7 303.9 278.6C301.6 279.6 298.8 280.5 296.3 281.2C293.8 281.9 291.2 282.4 288.7 283.0C286.2 283.6 283.7 284.3 281.2 284.9C278.7 285.5 276.1 286.2 273.6 286.8C271.1 287.4 267.9 287.9 266.0 288.7C264.1 289.4 264.1 290.6 262.5 291.3C260.9 292.1 258.3 293.0 256.2 293.2C254.1 293.4 251.7 293.1 249.9 292.5C248.1 291.9 246.4 290.6 245.5 289.4C244.6 288.1 244.2 286.4 244.2 285.0C244.2 283.6 245.8 282.1 245.5 281.2C245.2 280.3 243.9 280.0 242.3 279.9C240.7 279.8 238.1 280.9 236.0 280.8C233.9 280.7 231.7 280.1 229.7 279.3C227.7 278.5 225.7 277.4 224.0 276.1C222.3 274.8 220.8 273.3 219.6 271.7C218.4 270.1 217.6 268.5 217.0 266.6C216.4 264.7 215.9 261.6 215.8 260.3C215.7 259.0 216.0 260.4 216.4 259.0Z" fill="#ffa200"/>
<ellipse cx="246" cy="250" rx="28" ry="14" transform="rotate(-28 246 250)" fill="#ffc400" filter="url(#b3)" opacity="1"/>
<ellipse cx="240" cy="240" rx="18" ry="9" transform="rotate(-38 240 240)" fill="#ffbe00" filter="url(#b3)" opacity="0.9"/>
<ellipse cx="228" cy="267" rx="13" ry="12" transform="rotate(0 228 267)" fill="#ff4a00" filter="url(#b3)" opacity="0.95"/>
<ellipse cx="224" cy="262" rx="7" ry="10" transform="rotate(10 224 262)" fill="#ff4a00" filter="url(#b2)" opacity="0.8"/>
<ellipse cx="262" cy="239" rx="12" ry="6" transform="rotate(-30 262 239)" fill="#ffc800" filter="url(#b3)" opacity="0.9"/>
<ellipse cx="250" cy="250" rx="21" ry="8.5" transform="rotate(-26 250 250)" fill="#fff000" filter="url(#b3)" opacity="1"/>
<ellipse cx="252" cy="249" rx="13" ry="5" transform="rotate(-24 252 249)" fill="#fff200" filter="url(#b2)" opacity="1"/>
<ellipse cx="262" cy="257.5" rx="12" ry="4.5" transform="rotate(-5 262 257.5)" fill="#fff000" filter="url(#b2)" opacity="1"/>
<ellipse cx="292" cy="238" rx="21" ry="17" transform="rotate(30 292 238)" fill="#ff4c10" filter="url(#b3)" opacity="0.9"/>
<ellipse cx="276" cy="226" rx="8" ry="6" transform="rotate(0 276 226)" fill="#ff5a10" filter="url(#b3)" opacity="0.8"/>
<ellipse cx="298" cy="264" rx="17" ry="10" transform="rotate(-20 298 264)" fill="#ff5206" filter="url(#b3)" opacity="1"/>
<ellipse cx="291" cy="267.5" rx="7" ry="3.2" transform="rotate(-22 291 267.5)" fill="#ff9a00" filter="url(#b1)" opacity="0.9"/>
<ellipse cx="300" cy="254" rx="6" ry="4" transform="rotate(0 300 254)" fill="#ffa000" filter="url(#b2)" opacity="0.8"/>
<ellipse cx="254" cy="291" rx="6" ry="3" transform="rotate(0 254 291)" fill="#ff5a0a" filter="url(#b1)" opacity="0.9"/>
<rect x="213" y="215" width="108" height="81" filter="url(#otex)" opacity="0.08"/>
<path d="M216.4 259.0C216.8 257.6 217.4 254.3 218.3 251.9C219.2 249.5 220.6 246.6 222.1 244.3C223.6 242.0 225.3 240.1 227.2 238.0C229.1 235.9 231.2 233.6 233.5 231.7C235.8 229.8 238.5 228.1 241.0 226.6C243.5 225.1 246.1 223.9 248.6 222.8C251.1 221.8 253.7 221.0 256.2 220.3C258.7 219.6 261.2 219.2 263.8 218.8C266.4 218.4 269.1 217.9 272.0 218.0C274.9 218.1 278.4 218.7 281.2 219.3C284.0 219.9 286.4 220.7 288.7 221.6C291.0 222.5 293.0 223.3 295.1 224.7C297.2 226.1 299.4 228.0 301.4 229.8C303.4 231.6 305.4 233.5 307.1 235.5C308.8 237.5 310.2 239.7 311.5 241.8C312.8 243.9 313.8 246.0 314.6 248.1C315.4 250.2 316.0 252.6 316.5 254.4C317.0 256.2 317.4 257.7 317.6 259.0C317.9 260.3 318.0 260.7 318.0 262.0C318.0 263.3 317.9 265.0 317.5 266.6C317.1 268.2 316.5 270.2 315.3 271.7C314.1 273.2 312.1 274.4 310.2 275.5C308.3 276.6 306.2 277.7 303.9 278.6C301.6 279.6 298.8 280.5 296.3 281.2C293.8 281.9 291.2 282.4 288.7 283.0C286.2 283.6 283.7 284.3 281.2 284.9C278.7 285.5 276.1 286.2 273.6 286.8C271.1 287.4 267.9 287.9 266.0 288.7C264.1 289.4 264.1 290.6 262.5 291.3C260.9 292.1 258.3 293.0 256.2 293.2C254.1 293.4 251.7 293.1 249.9 292.5C248.1 291.9 246.4 290.6 245.5 289.4C244.6 288.1 244.2 286.4 244.2 285.0C244.2 283.6 245.8 282.1 245.5 281.2C245.2 280.3 243.9 280.0 242.3 279.9C240.7 279.8 238.1 280.9 236.0 280.8C233.9 280.7 231.7 280.1 229.7 279.3C227.7 278.5 225.7 277.4 224.0 276.1C222.3 274.8 220.8 273.3 219.6 271.7C218.4 270.1 217.6 268.5 217.0 266.6C216.4 264.7 215.9 261.6 215.8 260.3C215.7 259.0 216.0 260.4 216.4 259.0Z" fill="none" stroke="#f0380c" stroke-width="3.5" filter="url(#b1)" opacity="0.8"/>
<g mask="url(#gm4)"><g transform="rotate(-60 267 256)"><rect x="192" y="181" width="150" height="150" fill="#cfccb4" filter="url(#gtex)"/></g></g>
<path d="M288.5 236.0C289.0 235.2 290.9 231.2 291.5 231.0C292.1 230.8 292.2 233.9 292.3 234.5" fill="none" stroke="#f4501c" stroke-width="2.2" stroke-linecap="round" filter="url(#b05)" opacity="1"/><path d="M284.0 243.0C284.8 242.8 288.2 241.8 289.0 241.5" fill="none" stroke="#f4501c" stroke-width="1.6" stroke-linecap="round" filter="url(#b05)" opacity="1"/>
</g>
<path d="M216.4 259.0C216.8 257.6 217.4 254.3 218.3 251.9C219.2 249.5 220.6 246.6 222.1 244.3C223.6 242.0 225.3 240.1 227.2 238.0C229.1 235.9 231.2 233.6 233.5 231.7C235.8 229.8 238.5 228.1 241.0 226.6C243.5 225.1 246.1 223.9 248.6 222.8C251.1 221.8 253.7 221.0 256.2 220.3C258.7 219.6 261.2 219.2 263.8 218.8C266.4 218.4 269.1 217.9 272.0 218.0C274.9 218.1 278.4 218.7 281.2 219.3C284.0 219.9 286.4 220.7 288.7 221.6C291.0 222.5 293.0 223.3 295.1 224.7C297.2 226.1 299.4 228.0 301.4 229.8C303.4 231.6 305.4 233.5 307.1 235.5C308.8 237.5 310.2 239.7 311.5 241.8C312.8 243.9 313.8 246.0 314.6 248.1C315.4 250.2 316.0 252.6 316.5 254.4C317.0 256.2 317.4 257.7 317.6 259.0C317.9 260.3 318.0 260.7 318.0 262.0C318.0 263.3 317.9 265.0 317.5 266.6C317.1 268.2 316.5 270.2 315.3 271.7C314.1 273.2 312.1 274.4 310.2 275.5C308.3 276.6 306.2 277.7 303.9 278.6C301.6 279.6 298.8 280.5 296.3 281.2C293.8 281.9 291.2 282.4 288.7 283.0C286.2 283.6 283.7 284.3 281.2 284.9C278.7 285.5 276.1 286.2 273.6 286.8C271.1 287.4 267.9 287.9 266.0 288.7C264.1 289.4 264.1 290.6 262.5 291.3C260.9 292.1 258.3 293.0 256.2 293.2C254.1 293.4 251.7 293.1 249.9 292.5C248.1 291.9 246.4 290.6 245.5 289.4C244.6 288.1 244.2 286.4 244.2 285.0C244.2 283.6 245.8 282.1 245.5 281.2C245.2 280.3 243.9 280.0 242.3 279.9C240.7 279.8 238.1 280.9 236.0 280.8C233.9 280.7 231.7 280.1 229.7 279.3C227.7 278.5 225.7 277.4 224.0 276.1C222.3 274.8 220.8 273.3 219.6 271.7C218.4 270.1 217.6 268.5 217.0 266.6C216.4 264.7 215.9 261.6 215.8 260.3C215.7 259.0 216.0 260.4 216.4 259.0Z" fill="none" stroke="#fff" stroke-opacity="0.12" stroke-width="0.6"/>
<rect x="82.7" y="306" width="219.3" height="7.2" fill="url(#hot)" stroke="#666" stroke-width="0.5"/>
<text x="82.9" y="328" text-anchor="middle" font-size="13">0</text>
<line x1="137.7" y1="313.2" x2="137.7" y2="311" stroke="#222" stroke-width="0.6"/>
<text x="137.7" y="328" text-anchor="middle" font-size="13">1</text>
<line x1="192.6" y1="313.2" x2="192.6" y2="311" stroke="#222" stroke-width="0.6"/>
<text x="192.6" y="328" text-anchor="middle" font-size="13">2</text>
<line x1="247.4" y1="313.2" x2="247.4" y2="311" stroke="#222" stroke-width="0.6"/>
<text x="247.4" y="328" text-anchor="middle" font-size="13">3</text>
<text x="302.2" y="328" text-anchor="middle" font-size="13">4</text>
<text x="193" y="347.4" text-anchor="middle" font-size="13"><tspan font-style="italic">t</tspan> value</text>
<path d="M391.1 17.6V318.2H506.5" fill="none" stroke="#262626" stroke-width="1.25"/>
<line x1="391.1" y1="17.6" x2="394.6" y2="17.6" stroke="#262626" stroke-width="1.25"/>
<text x="385.3" y="22.1" text-anchor="end" font-size="13">1.5</text>
<line x1="391.1" y1="77.6" x2="394.6" y2="77.6" stroke="#262626" stroke-width="1.25"/>
<text x="385.3" y="82.1" text-anchor="end" font-size="13">1</text>
<line x1="391.1" y1="137.6" x2="394.6" y2="137.6" stroke="#262626" stroke-width="1.25"/>
<text x="385.3" y="142.1" text-anchor="end" font-size="13">0.5</text>
<line x1="391.1" y1="197.7" x2="394.6" y2="197.7" stroke="#262626" stroke-width="1.25"/>
<text x="385.3" y="202.2" text-anchor="end" font-size="13">0</text>
<line x1="391.1" y1="257.8" x2="394.6" y2="257.8" stroke="#262626" stroke-width="1.25"/>
<text x="385.3" y="262.2" text-anchor="end" font-size="13">−0.5</text>
<line x1="420" y1="318.2" x2="420" y2="314.7" stroke="#262626" stroke-width="1.25"/>
<text x="420" y="333.6" text-anchor="middle" font-size="13">tACS</text>
<line x1="477.8" y1="318.2" x2="477.8" y2="314.7" stroke="#262626" stroke-width="1.25"/>
<text x="477.8" y="333.6" text-anchor="middle" font-size="13">Sham</text>
<text x="394" y="12.3" font-size="13">×10<tspan dy="-5.5" font-size="9.8">−24</tspan></text>
<text transform="translate(349.3,161) rotate(-90)" text-anchor="middle" font-size="13">Δ Source–power (a.u.)</text>
<path d="M420 160V179" stroke="#d95319" stroke-width="1.2"/><circle cx="420" cy="169.7" r="4.1" fill="none" stroke="#d95319" stroke-width="2.5"/>
<circle cx="420" cy="36.7" r="2.65" fill="#000"/>
<circle cx="420" cy="83.2" r="2.65" fill="#000"/>
<circle cx="420" cy="129.2" r="2.65" fill="#000"/>
<circle cx="420" cy="152.7" r="2.65" fill="#000"/>
<circle cx="420" cy="166" r="2.65" fill="#000"/>
<circle cx="420" cy="168.5" r="2.65" fill="#000"/>
<circle cx="420" cy="171" r="2.65" fill="#000"/>
<circle cx="420" cy="173.5" r="2.65" fill="#000"/>
<circle cx="420" cy="176" r="2.65" fill="#000"/>
<circle cx="420" cy="178.5" r="2.65" fill="#000"/>
<circle cx="420" cy="181" r="2.65" fill="#000"/>
<circle cx="420" cy="183.5" r="2.65" fill="#000"/>
<circle cx="420" cy="187.5" r="2.65" fill="#000"/>
<circle cx="420" cy="192.5" r="2.65" fill="#000"/>
<circle cx="420" cy="197.5" r="2.65" fill="#000"/>
<circle cx="420" cy="205.6" r="2.65" fill="#000"/>
<circle cx="420" cy="209.6" r="2.65" fill="#000"/>
<path d="M412.3 160.1H427.9M412.3 179.3H427.9" stroke="#d95319" stroke-width="2.8" fill="none"/>
<path d="M477.7 191V200" stroke="#0072bd" stroke-width="1.2"/><circle cx="477.7" cy="195.7" r="3.7" fill="none" stroke="#0072bd" stroke-width="2.8"/>
<circle cx="477.7" cy="169.1" r="2.65" fill="#000"/>
<circle cx="477.7" cy="172.6" r="2.65" fill="#000"/>
<circle cx="477.7" cy="176.2" r="2.65" fill="#000"/>
<circle cx="477.7" cy="181.2" r="2.65" fill="#000"/>
<circle cx="477.7" cy="184.5" r="2.65" fill="#000"/>
<circle cx="477.7" cy="188" r="2.65" fill="#000"/>
<circle cx="477.7" cy="191" r="2.65" fill="#000"/>
<circle cx="477.7" cy="194" r="2.65" fill="#000"/>
<circle cx="477.7" cy="197" r="2.65" fill="#000"/>
<circle cx="477.7" cy="200.5" r="2.65" fill="#000"/>
<circle cx="477.7" cy="209.5" r="2.65" fill="#000"/>
<circle cx="477.7" cy="239.6" r="2.65" fill="#000"/>
<circle cx="477.7" cy="265.5" r="2.65" fill="#000"/>
<path d="M470.4 191.2H485.3M470.4 200.1H485.3" stroke="#0072bd" stroke-width="3" fill="none"/>
<polygon points="568.4,106.2 568.8,106.6 569.2,107.0 569.6,107.5 570.0,107.9 570.3,108.3 570.7,108.7 571.1,109.1 571.5,109.4 571.9,109.8 572.0,109.9 572.3,110.2 572.7,110.5 573.1,110.9 573.4,111.2 573.8,111.5 574.2,111.9 574.6,112.2 575.0,112.5 575.4,112.8 575.8,113.1 576.2,113.4 576.2,113.4 576.6,113.7 576.9,114.0 577.3,114.3 577.7,114.6 578.1,114.8 578.5,115.0 578.5,115.0 578.9,115.2 579.3,115.4 579.7,115.5 580.0,115.7 580.4,115.8 580.7,115.8 580.8,115.8 581.2,115.6 581.6,115.4 582.0,115.0 582.4,114.6 582.5,114.5 582.8,114.2 583.2,113.6 583.5,112.9 583.9,112.2 584.3,111.3 584.7,110.4 584.7,110.4 585.1,109.4 585.5,108.3 585.9,107.0 586.3,105.2 586.6,103.3 587.0,101.1 587.4,98.9 587.5,98.5 587.8,96.5 588.2,94.1 588.6,91.4 589.0,88.5 589.4,85.3 589.6,83.3 589.8,81.6 590.1,76.1 590.5,69.8 590.9,64.2 591.3,60.7 591.4,60.9 591.7,62.6 592.1,67.1 592.5,72.9 592.9,78.9 593.2,83.3 593.3,83.9 593.6,88.0 594.0,91.9 594.4,95.7 594.8,99.2 595.0,100.9 595.2,102.6 595.6,106.0 596.0,109.3 596.4,112.2 596.7,114.7 597.0,115.8 597.1,116.3 597.5,117.6 597.9,118.7 598.3,119.7 598.7,120.5 599.0,121.1 599.1,121.2 599.5,121.9 599.9,122.5 600.2,123.0 600.6,123.4 601.0,123.8 601.0,123.8 601.4,124.1 601.8,124.4 602.2,124.7 602.6,124.9 603.0,125.2 603.3,125.4 603.7,125.6 604.0,125.7 604.1,125.7 604.5,125.9 604.9,126.1 605.3,126.2 605.7,126.3 606.1,126.5 606.5,126.6 606.8,126.7 607.2,126.8 607.6,126.9 607.7,127.0 608.0,127.1 608.4,127.2 608.8,127.3 609.2,127.4 609.6,127.6 609.9,127.7 610.3,127.8 610.7,127.9 611.0,127.9 611.1,128.0 611.5,128.0 611.9,128.1 612.3,128.2 612.7,128.2 613.1,128.3 613.4,128.3 613.8,128.4 614.2,128.4 614.6,128.5 615.0,128.6 615.4,128.6 615.8,128.7 616.2,128.7 616.5,128.8 616.9,128.9 617.0,128.9 617.3,129.0 617.7,129.0 618.1,129.1 618.5,129.2 618.9,129.3 619.3,129.4 619.7,129.5 620.0,129.6 620.0,129.6 620.4,129.8 620.8,129.9 621.2,130.1 621.6,130.2 622.0,130.4 622.4,130.6 622.8,130.7 623.1,130.9 623.5,131.1 623.9,131.3 624.3,131.4 624.7,131.6 625.1,131.8 625.5,132.0 625.9,132.1 626.0,132.2 626.3,132.3 626.6,132.5 627.0,132.6 627.4,132.8 627.8,132.9 628.2,133.1 628.6,133.3 629.0,133.4 629.4,133.6 629.8,133.7 630.0,133.8 630.1,133.8 630.5,134.0 630.9,134.1 631.3,134.3 631.7,134.4 632.1,134.5 632.5,134.6 632.9,134.8 633.2,134.9 633.6,135.0 634.0,135.1 634.4,135.2 634.8,135.3 635.0,135.4 635.2,135.4 635.6,135.5 636.0,135.6 636.4,135.7 636.7,135.8 637.1,135.9 637.5,136.0 637.9,136.1 638.3,136.2 638.7,136.2 639.1,136.3 639.5,136.4 639.8,136.4 640.0,136.5 640.2,136.5 640.6,136.6 641.0,136.6 641.4,136.7 641.8,136.7 642.2,136.8 642.6,136.8 643.0,136.9 643.3,136.9 643.7,137.0 644.1,137.0 644.5,137.0 644.9,137.1 645.3,137.1 645.7,137.2 646.1,137.2 646.4,137.2 646.8,137.3 647.2,137.3 647.6,137.4 648.0,137.4 648.4,137.5 648.8,137.5 649.2,137.5 649.6,137.6 649.9,137.6 650.0,137.6 650.3,137.7 650.7,137.7 651.1,137.8 651.5,137.8 651.9,137.9 652.3,137.9 652.7,137.9 653.0,138.0 653.4,138.0 653.8,138.1 654.2,138.1 654.6,138.2 655.0,138.2 655.4,138.3 655.8,138.3 656.2,138.3 656.5,138.4 656.9,138.4 657.3,138.5 657.7,138.5 658.1,138.6 658.5,138.6 658.9,138.7 659.3,138.7 659.6,138.8 660.0,138.8 660.0,138.8 660.4,138.9 660.8,138.9 661.2,139.0 661.6,139.0 662.0,139.1 662.4,139.1 662.8,139.2 663.1,139.2 663.5,139.3 663.9,139.3 664.3,139.4 664.7,139.4 665.1,139.5 665.5,139.6 665.9,139.6 666.3,139.7 666.6,139.7 667.0,139.8 667.4,139.8 667.8,139.9 668.2,139.9 668.6,140.0 669.0,140.0 669.4,140.1 669.7,140.2 670.0,140.2 670.1,140.2 670.5,140.3 670.9,140.3 671.3,140.4 671.7,140.4 672.1,140.5 672.5,140.5 672.9,140.6 673.2,140.6 673.6,140.7 674.0,140.8 674.4,140.8 674.8,140.9 675.2,140.9 675.6,141.0 676.0,141.0 676.3,141.1 676.7,141.1 677.1,141.2 677.5,141.2 677.9,141.3 678.3,141.3 678.7,141.4 679.1,141.5 679.5,141.5 679.8,141.6 680.2,141.6 680.6,141.7 681.0,141.7 681.4,141.8 681.8,141.8 682.2,141.9 682.6,141.9 682.9,142.0 683.3,142.1 683.7,142.1 684.1,142.2 684.5,142.2 684.5,142.4 684.1,142.3 683.7,142.3 683.3,142.2 682.9,142.2 682.6,142.1 682.2,142.1 681.8,142.0 681.4,142.0 681.0,142.0 680.6,141.9 680.2,141.9 679.8,141.8 679.5,141.8 679.1,141.7 678.7,141.7 678.3,141.6 677.9,141.6 677.5,141.5 677.1,141.5 676.7,141.4 676.3,141.4 676.0,141.3 675.6,141.3 675.2,141.2 674.8,141.2 674.4,141.1 674.0,141.1 673.6,141.0 673.2,141.0 672.9,141.0 672.5,140.9 672.1,140.9 671.7,140.8 671.3,140.8 670.9,140.7 670.5,140.7 670.1,140.6 670.0,140.6 669.7,140.6 669.4,140.5 669.0,140.5 668.6,140.4 668.2,140.4 667.8,140.3 667.4,140.3 667.0,140.2 666.6,140.2 666.3,140.1 665.9,140.1 665.5,140.0 665.1,140.0 664.7,139.9 664.3,139.9 663.9,139.9 663.5,139.8 663.1,139.8 662.8,139.7 662.4,139.7 662.0,139.6 661.6,139.6 661.2,139.5 660.8,139.5 660.4,139.4 660.0,139.4 660.0,139.4 659.6,139.4 659.3,139.3 658.9,139.3 658.5,139.2 658.1,139.2 657.7,139.1 657.3,139.1 656.9,139.1 656.5,139.0 656.2,139.0 655.8,138.9 655.4,138.9 655.0,138.9 654.6,138.8 654.2,138.8 653.8,138.8 653.4,138.7 653.0,138.7 652.7,138.6 652.3,138.6 651.9,138.6 651.5,138.5 651.1,138.5 650.7,138.4 650.3,138.4 650.0,138.4 649.9,138.4 649.6,138.3 649.2,138.3 648.8,138.2 648.4,138.2 648.0,138.2 647.6,138.1 647.2,138.1 646.8,138.1 646.4,138.0 646.1,138.0 645.7,138.0 645.3,137.9 644.9,137.9 644.5,137.8 644.1,137.8 643.7,137.8 643.3,137.7 643.0,137.7 642.6,137.7 642.2,137.6 641.8,137.6 641.4,137.5 641.0,137.5 640.6,137.4 640.2,137.4 640.0,137.3 639.8,137.3 639.5,137.3 639.1,137.2 638.7,137.1 638.3,137.1 637.9,137.0 637.5,136.9 637.1,136.9 636.7,136.8 636.4,136.7 636.0,136.6 635.6,136.5 635.2,136.4 635.0,136.4 634.8,136.4 634.4,136.3 634.0,136.2 633.6,136.1 633.2,136.0 632.9,135.9 632.5,135.8 632.1,135.6 631.7,135.5 631.3,135.4 630.9,135.3 630.5,135.2 630.1,135.0 630.0,135.0 629.8,134.9 629.4,134.8 629.0,134.7 628.6,134.5 628.2,134.4 627.8,134.3 627.4,134.1 627.0,134.0 626.6,133.8 626.3,133.7 626.0,133.6 625.9,133.6 625.5,133.4 625.1,133.3 624.7,133.1 624.3,133.0 623.9,132.8 623.5,132.6 623.1,132.5 622.8,132.3 622.4,132.2 622.0,132.0 621.6,131.9 621.2,131.7 620.8,131.6 620.4,131.5 620.0,131.4 620.0,131.4 619.7,131.3 619.3,131.2 618.9,131.1 618.5,131.0 618.1,130.9 617.7,130.8 617.3,130.8 617.0,130.7 616.9,130.7 616.5,130.6 616.2,130.6 615.8,130.5 615.4,130.5 615.0,130.4 614.6,130.4 614.2,130.3 613.8,130.3 613.4,130.2 613.1,130.2 612.7,130.1 612.3,130.1 611.9,130.0 611.5,130.0 611.1,129.9 611.0,129.9 610.7,129.8 610.3,129.7 609.9,129.6 609.6,129.5 609.2,129.4 608.8,129.3 608.4,129.2 608.0,129.1 607.7,129.0 607.6,129.0 607.2,128.9 606.8,128.8 606.5,128.7 606.1,128.6 605.7,128.5 605.3,128.4 604.9,128.2 604.5,128.1 604.1,128.0 604.0,127.9 603.7,127.8 603.3,127.6 603.0,127.4 602.6,127.2 602.2,127.0 601.8,126.8 601.4,126.5 601.0,126.2 601.0,126.2 600.6,125.9 600.2,125.5 599.9,125.1 599.5,124.6 599.1,124.0 599.0,123.9 598.7,123.4 598.3,122.6 597.9,121.8 597.5,120.8 597.1,119.7 597.0,119.2 596.7,118.3 596.4,116.9 596.0,115.3 595.6,113.6 595.2,111.9 595.0,111.1 594.8,110.3 594.4,108.6 594.0,106.8 593.6,105.0 593.3,103.0 593.2,102.7 592.9,100.3 592.5,96.8 592.1,93.5 591.7,91.4 591.4,91.3 591.3,91.6 590.9,92.9 590.5,96.0 590.1,99.7 589.8,102.8 589.6,103.5 589.4,104.3 589.0,105.5 588.6,106.5 588.2,107.3 587.8,108.0 587.5,108.5 587.4,108.7 587.0,109.4 586.6,110.1 586.3,110.8 585.9,111.6 585.5,112.7 585.1,113.7 584.7,114.5 584.7,114.6 584.3,115.3 583.9,116.1 583.5,116.8 583.2,117.3 582.8,117.8 582.5,118.1 582.4,118.2 582.0,118.6 581.6,118.9 581.2,119.1 580.8,119.2 580.7,119.2 580.4,119.2 580.0,119.1 579.7,119.0 579.3,118.9 578.9,118.7 578.5,118.6 578.5,118.6 578.1,118.4 577.7,118.2 577.3,117.9 576.9,117.7 576.6,117.4 576.2,117.2 576.2,117.2 575.8,116.9 575.4,116.6 575.0,116.4 574.6,116.1 574.2,115.8 573.8,115.5 573.4,115.2 573.1,114.9 572.7,114.6 572.3,114.3 572.0,114.1 571.9,114.0 571.5,113.7 571.1,113.4 570.7,113.0 570.3,112.7 570.0,112.3 569.6,112.0 569.2,111.6 568.8,111.2 568.4,110.8" fill="#000" fill-opacity="0.13" stroke="#000" stroke-opacity="0.85" stroke-width="0.7" stroke-linejoin="round"/>
<polyline points="568.4,108.5 568.8,108.9 569.2,109.3 569.6,109.7 570.0,110.1 570.3,110.5 570.7,110.8 571.1,111.2 571.5,111.6 571.9,111.9 572.0,112.0 572.3,112.2 572.7,112.6 573.1,112.9 573.4,113.2 573.8,113.5 574.2,113.8 574.6,114.1 575.0,114.4 575.4,114.7 575.8,115.0 576.2,115.3 576.2,115.3 576.6,115.6 576.9,115.8 577.3,116.1 577.7,116.4 578.1,116.6 578.5,116.8 578.5,116.8 578.9,117.0 579.3,117.1 579.7,117.3 580.0,117.4 580.4,117.5 580.7,117.5 580.8,117.5 581.2,117.4 581.6,117.1 582.0,116.8 582.4,116.4 582.5,116.3 582.8,116.0 583.2,115.5 583.5,114.9 583.9,114.1 584.3,113.3 584.7,112.5 584.7,112.5 585.1,111.5 585.5,110.5 585.9,109.3 586.3,108.0 586.6,106.7 587.0,105.3 587.4,103.8 587.5,103.5 587.8,102.3 588.2,100.7 588.6,98.9 589.0,97.0 589.4,94.8 589.6,93.4 589.8,92.2 590.1,87.9 590.5,82.9 590.9,78.5 591.3,76.2 591.4,76.1 591.7,77.0 592.1,80.3 592.5,84.9 592.9,89.6 593.2,93.0 593.3,93.4 593.6,96.5 594.0,99.4 594.4,102.1 594.8,104.7 595.0,106.0 595.2,107.2 595.6,109.8 596.0,112.3 596.4,114.6 596.7,116.5 597.0,117.5 597.1,118.0 597.5,119.2 597.9,120.2 598.3,121.2 598.7,121.9 599.0,122.5 599.1,122.6 599.5,123.2 599.9,123.8 600.2,124.2 600.6,124.7 601.0,125.0 601.0,125.0 601.4,125.3 601.8,125.6 602.2,125.9 602.6,126.1 603.0,126.3 603.3,126.5 603.7,126.7 604.0,126.8 604.1,126.9 604.5,127.0 604.9,127.1 605.3,127.3 605.7,127.4 606.1,127.5 606.5,127.6 606.8,127.8 607.2,127.9 607.6,128.0 607.7,128.0 608.0,128.1 608.4,128.2 608.8,128.3 609.2,128.4 609.6,128.5 609.9,128.7 610.3,128.8 610.7,128.8 611.0,128.9 611.1,128.9 611.5,129.0 611.9,129.1 612.3,129.1 612.7,129.2 613.1,129.2 613.4,129.3 613.8,129.3 614.2,129.4 614.6,129.4 615.0,129.5 615.4,129.5 615.8,129.6 616.2,129.7 616.5,129.7 616.9,129.8 617.0,129.8 617.3,129.9 617.7,129.9 618.1,130.0 618.5,130.1 618.9,130.2 619.3,130.3 619.7,130.4 620.0,130.5 620.0,130.5 620.4,130.6 620.8,130.8 621.2,130.9 621.6,131.0 622.0,131.2 622.4,131.4 622.8,131.5 623.1,131.7 623.5,131.9 623.9,132.0 624.3,132.2 624.7,132.4 625.1,132.5 625.5,132.7 625.9,132.8 626.0,132.9 626.3,133.0 626.6,133.2 627.0,133.3 627.4,133.5 627.8,133.6 628.2,133.8 628.6,133.9 629.0,134.0 629.4,134.2 629.8,134.3 630.0,134.4 630.1,134.4 630.5,134.6 630.9,134.7 631.3,134.8 631.7,135.0 632.1,135.1 632.5,135.2 632.9,135.3 633.2,135.4 633.6,135.5 634.0,135.6 634.4,135.8 634.8,135.9 635.0,135.9 635.2,135.9 635.6,136.0 636.0,136.1 636.4,136.2 636.7,136.3 637.1,136.4 637.5,136.5 637.9,136.5 638.3,136.6 638.7,136.7 639.1,136.8 639.5,136.8 639.8,136.9 640.0,136.9 640.2,136.9 640.6,137.0 641.0,137.0 641.4,137.1 641.8,137.1 642.2,137.2 642.6,137.2 643.0,137.3 643.3,137.3 643.7,137.4 644.1,137.4 644.5,137.4 644.9,137.5 645.3,137.5 645.7,137.6 646.1,137.6 646.4,137.6 646.8,137.7 647.2,137.7 647.6,137.8 648.0,137.8 648.4,137.8 648.8,137.9 649.2,137.9 649.6,138.0 649.9,138.0 650.0,138.0 650.3,138.0 650.7,138.1 651.1,138.1 651.5,138.2 651.9,138.2 652.3,138.2 652.7,138.3 653.0,138.3 653.4,138.4 653.8,138.4 654.2,138.5 654.6,138.5 655.0,138.5 655.4,138.6 655.8,138.6 656.2,138.7 656.5,138.7 656.9,138.7 657.3,138.8 657.7,138.8 658.1,138.9 658.5,138.9 658.9,139.0 659.3,139.0 659.6,139.1 660.0,139.1 660.0,139.1 660.4,139.2 660.8,139.2 661.2,139.2 661.6,139.3 662.0,139.3 662.4,139.4 662.8,139.4 663.1,139.5 663.5,139.5 663.9,139.6 664.3,139.6 664.7,139.7 665.1,139.7 665.5,139.8 665.9,139.9 666.3,139.9 666.6,140.0 667.0,140.0 667.4,140.1 667.8,140.1 668.2,140.2 668.6,140.2 669.0,140.3 669.4,140.3 669.7,140.4 670.0,140.4 670.1,140.4 670.5,140.5 670.9,140.5 671.3,140.6 671.7,140.6 672.1,140.7 672.5,140.7 672.9,140.8 673.2,140.8 673.6,140.9 674.0,140.9 674.4,141.0 674.8,141.0 675.2,141.1 675.6,141.1 676.0,141.2 676.3,141.2 676.7,141.3 677.1,141.3 677.5,141.4 677.9,141.4 678.3,141.5 678.7,141.5 679.1,141.6 679.5,141.6 679.8,141.7 680.2,141.7 680.6,141.8 681.0,141.8 681.4,141.9 681.8,141.9 682.2,142.0 682.6,142.0 682.9,142.1 683.3,142.1 683.7,142.2 684.1,142.2 684.5,142.3" fill="none" stroke="#000" stroke-width="1.9" stroke-linejoin="round"/>
<polygon points="568.4,103.0 568.8,103.4 569.2,103.9 569.6,104.4 570.0,104.8 570.3,105.2 570.7,105.7 571.1,106.1 571.5,106.5 571.5,106.5 571.9,107.0 572.3,107.5 572.7,108.0 573.1,108.5 573.4,108.9 573.8,109.3 574.2,109.5 574.6,109.6 574.6,109.6 575.0,109.5 575.4,109.1 575.8,108.8 576.2,108.6 576.2,108.6 576.6,108.5 576.9,108.4 577.3,108.3 577.7,108.3 578.1,108.2 578.5,108.2 578.5,108.2 578.9,108.3 579.3,108.3 579.7,108.4 580.0,108.5 580.4,108.5 580.7,108.6 580.8,108.5 581.2,108.3 581.6,107.9 582.0,107.3 582.2,107.1 582.4,106.8 582.8,106.0 583.2,105.2 583.5,104.3 583.5,104.1 583.9,103.0 584.3,101.6 584.7,100.2 585.1,98.6 585.5,96.9 585.9,95.2 586.3,92.9 586.3,92.7 586.6,90.5 587.0,88.0 587.4,85.3 587.8,82.3 588.2,78.9 588.2,78.9 588.6,74.1 589.0,67.5 589.4,60.0 589.8,52.0 590.1,44.4 590.5,37.7 590.9,32.7 591.3,30.1 591.3,30.1 591.7,32.9 592.1,37.9 592.5,44.6 592.9,52.2 593.3,60.2 593.6,67.9 594.0,74.7 594.3,78.6 594.4,80.1 594.8,84.7 595.2,89.0 595.6,93.0 596.0,96.7 596.4,100.2 596.5,101.5 596.7,103.5 597.1,106.2 597.5,108.8 597.9,111.2 598.3,113.3 598.7,115.0 598.7,115.1 599.1,116.5 599.5,117.8 599.9,118.9 600.2,119.8 600.3,119.9 600.6,120.5 601.0,121.0 601.4,121.5 601.8,122.0 602.1,122.3 602.2,122.4 602.6,122.7 603.0,123.1 603.3,123.4 603.7,123.7 604.1,124.0 604.5,124.2 604.5,124.2 604.9,124.4 605.3,124.6 605.7,124.8 606.1,125.0 606.5,125.1 606.8,125.3 607.2,125.4 607.6,125.6 607.7,125.6 608.0,125.7 608.4,125.9 608.8,126.0 609.2,126.1 609.6,126.3 609.9,126.4 610.3,126.5 610.7,126.6 611.0,126.7 611.1,126.7 611.5,126.8 611.9,126.9 612.3,126.9 612.7,127.0 613.1,127.1 613.4,127.1 613.8,127.2 614.0,127.2 614.2,127.2 614.6,127.3 615.0,127.3 615.4,127.3 615.8,127.4 616.2,127.4 616.5,127.5 616.9,127.5 617.0,127.5 617.3,127.6 617.7,127.7 618.1,127.7 618.5,127.8 618.9,127.9 619.3,128.1 619.7,128.2 620.0,128.3 620.0,128.3 620.4,128.4 620.8,128.6 621.2,128.7 621.6,128.9 622.0,129.1 622.4,129.3 622.8,129.5 623.0,129.6 623.1,129.6 623.5,129.8 623.9,130.0 624.3,130.2 624.7,130.4 625.1,130.6 625.5,130.8 625.9,131.0 626.0,131.1 626.3,131.2 626.6,131.4 627.0,131.6 627.4,131.7 627.8,131.9 628.2,132.1 628.6,132.3 629.0,132.5 629.4,132.6 629.8,132.8 630.0,132.9 630.1,132.9 630.5,133.1 630.9,133.3 631.3,133.4 631.7,133.6 632.1,133.7 632.5,133.9 632.9,134.0 633.2,134.1 633.6,134.3 634.0,134.4 634.4,134.5 634.8,134.7 635.0,134.7 635.2,134.8 635.6,134.9 636.0,135.0 636.4,135.1 636.7,135.2 637.1,135.3 637.5,135.4 637.9,135.5 638.3,135.5 638.7,135.6 639.1,135.7 639.5,135.8 639.8,135.9 640.0,135.9 640.2,135.9 640.6,136.0 641.0,136.1 641.4,136.1 641.8,136.2 642.2,136.3 642.6,136.3 643.0,136.4 643.3,136.4 643.7,136.5 644.0,136.5 644.1,136.5 644.5,136.6 644.9,136.6 645.3,136.7 645.7,136.7 646.1,136.8 646.4,136.8 646.8,136.9 647.2,136.9 647.6,136.9 648.0,137.0 648.4,137.0 648.8,137.1 649.2,137.1 649.6,137.1 649.9,137.2 650.0,137.2 650.3,137.2 650.7,137.2 651.1,137.3 651.5,137.3 651.9,137.3 652.3,137.3 652.7,137.4 653.0,137.4 653.4,137.4 653.8,137.5 654.0,137.5 654.2,137.5 654.6,137.6 655.0,137.6 655.4,137.7 655.8,137.7 656.2,137.8 656.5,137.9 656.9,137.9 657.3,138.0 657.7,138.1 658.1,138.1 658.5,138.2 658.9,138.3 659.3,138.3 659.6,138.4 660.0,138.5 660.0,138.5 660.4,138.5 660.8,138.6 661.2,138.6 661.6,138.7 662.0,138.8 662.4,138.8 662.8,138.9 663.1,138.9 663.5,139.0 663.9,139.1 664.3,139.1 664.7,139.2 665.0,139.2 665.1,139.2 665.5,139.3 665.9,139.3 666.3,139.4 666.6,139.5 667.0,139.5 667.4,139.6 667.8,139.6 668.2,139.7 668.6,139.7 669.0,139.8 669.4,139.9 669.7,139.9 670.0,140.0 670.1,140.0 670.5,140.0 670.9,140.1 671.3,140.2 671.7,140.2 672.1,140.3 672.5,140.3 672.9,140.4 673.2,140.4 673.6,140.5 674.0,140.6 674.4,140.6 674.8,140.7 675.0,140.7 675.2,140.7 675.6,140.8 676.0,140.9 676.3,140.9 676.7,141.0 677.1,141.0 677.5,141.1 677.9,141.2 678.3,141.2 678.7,141.3 679.1,141.3 679.5,141.4 679.8,141.4 680.0,141.5 680.2,141.5 680.6,141.6 681.0,141.6 681.4,141.7 681.8,141.7 682.2,141.8 682.6,141.8 682.9,141.9 683.3,141.9 683.7,142.0 684.1,142.1 684.5,142.1 684.5,142.3 684.1,142.2 683.7,142.2 683.3,142.2 682.9,142.1 682.6,142.1 682.2,142.0 681.8,142.0 681.4,141.9 681.0,141.9 680.6,141.8 680.2,141.8 680.0,141.7 679.8,141.7 679.5,141.7 679.1,141.6 678.7,141.6 678.3,141.5 677.9,141.5 677.5,141.4 677.1,141.4 676.7,141.3 676.3,141.3 676.0,141.2 675.6,141.2 675.2,141.1 675.0,141.1 674.8,141.1 674.4,141.0 674.0,141.0 673.6,140.9 673.2,140.9 672.9,140.8 672.5,140.8 672.1,140.7 671.7,140.7 671.3,140.6 670.9,140.6 670.5,140.5 670.1,140.5 670.0,140.4 669.7,140.4 669.4,140.4 669.0,140.3 668.6,140.3 668.2,140.2 667.8,140.2 667.4,140.1 667.0,140.1 666.6,140.0 666.3,140.0 665.9,139.9 665.5,139.8 665.1,139.8 665.0,139.8 664.7,139.7 664.3,139.7 663.9,139.6 663.5,139.6 663.1,139.5 662.8,139.5 662.4,139.4 662.0,139.4 661.6,139.3 661.2,139.3 660.8,139.2 660.4,139.2 660.0,139.1 660.0,139.1 659.6,139.1 659.3,139.0 658.9,139.0 658.5,138.9 658.1,138.9 657.7,138.8 657.3,138.7 656.9,138.7 656.5,138.6 656.2,138.6 655.8,138.5 655.4,138.5 655.0,138.4 654.6,138.4 654.2,138.3 654.0,138.3 653.8,138.3 653.4,138.3 653.0,138.2 652.7,138.2 652.3,138.2 651.9,138.2 651.5,138.1 651.1,138.1 650.7,138.1 650.3,138.0 650.0,138.0 649.9,138.0 649.6,138.0 649.2,138.0 648.8,137.9 648.4,137.9 648.0,137.9 647.6,137.8 647.2,137.8 646.8,137.8 646.4,137.7 646.1,137.7 645.7,137.6 645.3,137.6 644.9,137.6 644.5,137.5 644.1,137.5 644.0,137.5 643.7,137.4 643.3,137.4 643.0,137.3 642.6,137.3 642.2,137.2 641.8,137.2 641.4,137.1 641.0,137.1 640.6,137.0 640.2,136.9 640.0,136.9 639.8,136.9 639.5,136.8 639.1,136.8 638.7,136.7 638.3,136.6 637.9,136.5 637.5,136.5 637.1,136.4 636.7,136.3 636.4,136.2 636.0,136.1 635.6,136.0 635.2,135.9 635.0,135.9 634.8,135.8 634.4,135.7 634.0,135.6 633.6,135.5 633.2,135.4 632.9,135.3 632.5,135.2 632.1,135.0 631.7,134.9 631.3,134.8 630.9,134.6 630.5,134.5 630.1,134.4 630.0,134.3 629.8,134.2 629.4,134.1 629.0,133.9 628.6,133.8 628.2,133.6 627.8,133.5 627.4,133.3 627.0,133.2 626.6,133.0 626.3,132.8 626.0,132.7 625.9,132.7 625.5,132.5 625.1,132.3 624.7,132.2 624.3,132.0 623.9,131.8 623.5,131.7 623.1,131.5 623.0,131.4 622.8,131.3 622.4,131.2 622.0,131.0 621.6,130.9 621.2,130.7 620.8,130.6 620.4,130.5 620.0,130.3 620.0,130.3 619.7,130.2 619.3,130.1 618.9,130.0 618.5,129.9 618.1,129.9 617.7,129.8 617.3,129.7 617.0,129.7 616.9,129.7 616.5,129.6 616.2,129.6 615.8,129.6 615.4,129.5 615.0,129.5 614.6,129.5 614.2,129.4 614.0,129.4 613.8,129.4 613.4,129.3 613.1,129.3 612.7,129.2 612.3,129.2 611.9,129.1 611.5,129.0 611.1,129.0 611.0,128.9 610.7,128.9 610.3,128.8 609.9,128.7 609.6,128.6 609.2,128.5 608.8,128.3 608.4,128.2 608.0,128.1 607.7,128.0 607.6,128.0 607.2,127.9 606.8,127.7 606.5,127.6 606.1,127.5 605.7,127.3 605.3,127.2 604.9,127.0 604.5,126.8 604.5,126.8 604.1,126.6 603.7,126.4 603.3,126.1 603.0,125.8 602.6,125.5 602.2,125.2 602.1,125.1 601.8,124.9 601.4,124.5 601.0,124.1 600.6,123.6 600.3,123.1 600.2,123.0 599.9,122.2 599.5,121.3 599.1,120.1 598.7,118.9 598.7,118.9 598.3,117.3 597.9,115.5 597.5,113.4 597.1,111.2 596.7,108.9 596.5,107.7 596.4,107.1 596.0,105.4 595.6,103.7 595.2,102.0 594.8,100.1 594.4,98.0 594.3,97.4 594.0,95.5 593.6,91.7 593.3,87.2 592.9,82.6 592.5,78.3 592.1,75.0 591.7,73.1 591.3,73.3 591.3,73.3 590.9,73.1 590.5,75.0 590.1,78.3 589.8,82.5 589.4,87.1 589.0,91.5 588.6,95.0 588.2,97.1 588.2,97.1 587.8,98.1 587.4,98.9 587.0,99.5 586.6,100.1 586.3,100.7 586.3,100.8 585.9,101.8 585.5,103.2 585.1,104.6 584.7,106.0 584.3,107.3 583.9,108.4 583.5,109.4 583.5,109.5 583.2,110.3 582.8,111.1 582.4,111.7 582.2,111.9 582.0,112.2 581.6,112.7 581.2,113.0 580.8,113.2 580.7,113.2 580.4,113.2 580.0,113.2 579.7,113.1 579.3,113.0 578.9,113.0 578.5,113.0 578.5,113.0 578.1,113.0 577.7,113.0 577.3,113.1 576.9,113.1 576.6,113.2 576.2,113.2 576.2,113.3 575.8,113.5 575.4,113.8 575.0,114.0 574.6,114.2 574.6,114.2 574.2,114.1 573.8,113.9 573.4,113.6 573.1,113.2 572.7,112.8 572.3,112.3 571.9,111.9 571.5,111.5 571.5,111.5 571.1,111.1 570.7,110.8 570.3,110.4 570.0,110.0 569.6,109.6 569.2,109.2 568.8,108.8 568.4,108.4" fill="#d95319" fill-opacity="0.3" stroke="#d95319" stroke-opacity="0.85" stroke-width="0.7" stroke-linejoin="round"/>
<polyline points="568.4,105.7 568.8,106.1 569.2,106.6 569.6,107.0 570.0,107.4 570.3,107.8 570.7,108.2 571.1,108.6 571.5,109.0 571.5,109.0 571.9,109.4 572.3,109.9 572.7,110.4 573.1,110.8 573.4,111.3 573.8,111.6 574.2,111.8 574.6,111.9 574.6,111.9 575.0,111.8 575.4,111.5 575.8,111.1 576.2,110.9 576.2,110.9 576.6,110.8 576.9,110.7 577.3,110.7 577.7,110.6 578.1,110.6 578.5,110.6 578.5,110.6 578.9,110.6 579.3,110.7 579.7,110.8 580.0,110.8 580.4,110.9 580.7,110.9 580.8,110.9 581.2,110.7 581.6,110.3 582.0,109.8 582.2,109.5 582.4,109.2 582.8,108.6 583.2,107.7 583.5,106.9 583.5,106.8 583.9,105.7 584.3,104.5 584.7,103.1 585.1,101.6 585.5,100.0 585.9,98.5 586.3,96.9 586.3,96.7 586.6,95.3 587.0,93.8 587.4,92.1 587.8,90.2 588.2,88.0 588.2,88.0 588.6,84.5 589.0,79.5 589.4,73.5 589.8,67.3 590.1,61.4 590.5,56.4 590.9,52.9 591.3,51.7 591.3,51.7 591.7,53.0 592.1,56.5 592.5,61.5 592.9,67.4 593.3,73.7 593.6,79.8 594.0,85.1 594.3,88.0 594.4,89.0 594.8,92.4 595.2,95.5 595.6,98.4 596.0,101.1 596.4,103.7 596.5,104.6 596.7,106.2 597.1,108.7 597.5,111.1 597.9,113.3 598.3,115.3 598.7,117.0 598.7,117.0 599.1,118.3 599.5,119.5 599.9,120.6 600.2,121.4 600.3,121.5 600.6,122.0 601.0,122.6 601.4,123.0 601.8,123.4 602.1,123.7 602.2,123.8 602.6,124.1 603.0,124.5 603.3,124.8 603.7,125.0 604.1,125.3 604.5,125.5 604.5,125.5 604.9,125.7 605.3,125.9 605.7,126.1 606.1,126.2 606.5,126.4 606.8,126.5 607.2,126.6 607.6,126.8 607.7,126.8 608.0,126.9 608.4,127.0 608.8,127.2 609.2,127.3 609.6,127.4 609.9,127.5 610.3,127.6 610.7,127.7 611.0,127.8 611.1,127.8 611.5,127.9 611.9,128.0 612.3,128.0 612.7,128.1 613.1,128.2 613.4,128.2 613.8,128.3 614.0,128.3 614.2,128.3 614.6,128.4 615.0,128.4 615.4,128.4 615.8,128.5 616.2,128.5 616.5,128.5 616.9,128.6 617.0,128.6 617.3,128.6 617.7,128.7 618.1,128.8 618.5,128.9 618.9,129.0 619.3,129.1 619.7,129.2 620.0,129.3 620.0,129.3 620.4,129.4 620.8,129.6 621.2,129.7 621.6,129.9 622.0,130.1 622.4,130.2 622.8,130.4 623.0,130.5 623.1,130.6 623.5,130.7 623.9,130.9 624.3,131.1 624.7,131.3 625.1,131.5 625.5,131.7 625.9,131.8 626.0,131.9 626.3,132.0 626.6,132.2 627.0,132.4 627.4,132.5 627.8,132.7 628.2,132.9 628.6,133.0 629.0,133.2 629.4,133.4 629.8,133.5 630.0,133.6 630.1,133.7 630.5,133.8 630.9,133.9 631.3,134.1 631.7,134.2 632.1,134.4 632.5,134.5 632.9,134.6 633.2,134.8 633.6,134.9 634.0,135.0 634.4,135.1 634.8,135.2 635.0,135.3 635.2,135.3 635.6,135.5 636.0,135.5 636.4,135.6 636.7,135.7 637.1,135.8 637.5,135.9 637.9,136.0 638.3,136.1 638.7,136.2 639.1,136.2 639.5,136.3 639.8,136.4 640.0,136.4 640.2,136.4 640.6,136.5 641.0,136.6 641.4,136.6 641.8,136.7 642.2,136.8 642.6,136.8 643.0,136.9 643.3,136.9 643.7,137.0 644.0,137.0 644.1,137.0 644.5,137.1 644.9,137.1 645.3,137.1 645.7,137.2 646.1,137.2 646.4,137.3 646.8,137.3 647.2,137.3 647.6,137.4 648.0,137.4 648.4,137.5 648.8,137.5 649.2,137.5 649.6,137.6 649.9,137.6 650.0,137.6 650.3,137.6 650.7,137.7 651.1,137.7 651.5,137.7 651.9,137.7 652.3,137.8 652.7,137.8 653.0,137.8 653.4,137.8 653.8,137.9 654.0,137.9 654.2,137.9 654.6,138.0 655.0,138.0 655.4,138.1 655.8,138.1 656.2,138.2 656.5,138.2 656.9,138.3 657.3,138.4 657.7,138.4 658.1,138.5 658.5,138.6 658.9,138.6 659.3,138.7 659.6,138.7 660.0,138.8 660.0,138.8 660.4,138.9 660.8,138.9 661.2,139.0 661.6,139.0 662.0,139.1 662.4,139.1 662.8,139.2 663.1,139.2 663.5,139.3 663.9,139.3 664.3,139.4 664.7,139.5 665.0,139.5 665.1,139.5 665.5,139.6 665.9,139.6 666.3,139.7 666.6,139.7 667.0,139.8 667.4,139.8 667.8,139.9 668.2,139.9 668.6,140.0 669.0,140.1 669.4,140.1 669.7,140.2 670.0,140.2 670.1,140.2 670.5,140.3 670.9,140.3 671.3,140.4 671.7,140.4 672.1,140.5 672.5,140.5 672.9,140.6 673.2,140.7 673.6,140.7 674.0,140.8 674.4,140.8 674.8,140.9 675.0,140.9 675.2,140.9 675.6,141.0 676.0,141.0 676.3,141.1 676.7,141.1 677.1,141.2 677.5,141.3 677.9,141.3 678.3,141.4 678.7,141.4 679.1,141.5 679.5,141.5 679.8,141.6 680.0,141.6 680.2,141.6 680.6,141.7 681.0,141.7 681.4,141.8 681.8,141.8 682.2,141.9 682.6,141.9 682.9,142.0 683.3,142.0 683.7,142.1 684.1,142.1 684.5,142.2" fill="none" stroke="#d95319" stroke-width="2.2" stroke-linejoin="round"/>
<path d="M568.5 17.3V143.5H685" fill="none" stroke="#262626" stroke-width="1.25"/>
<text x="563.4" y="148.1" text-anchor="end" font-size="13">0</text>
<line x1="568.5" y1="107.4" x2="571.6" y2="107.4" stroke="#262626" stroke-width="1.25"/>
<text x="563.4" y="112.0" text-anchor="end" font-size="13">2</text>
<line x1="568.5" y1="71.3" x2="571.6" y2="71.3" stroke="#262626" stroke-width="1.25"/>
<text x="563.4" y="75.9" text-anchor="end" font-size="13">4</text>
<line x1="568.5" y1="35.2" x2="571.6" y2="35.2" stroke="#262626" stroke-width="1.25"/>
<text x="563.4" y="39.8" text-anchor="end" font-size="13">6</text>
<line x1="592.5" y1="143.5" x2="592.5" y2="140.5" stroke="#262626" stroke-width="1.25"/>
<text x="592.5" y="158.4" text-anchor="middle" font-size="13">IAF</text>
<line x1="626.4" y1="143.5" x2="626.4" y2="140.5" stroke="#262626" stroke-width="1.25"/>
<text x="626.4" y="158.4" text-anchor="middle" font-size="13">+10</text>
<line x1="660.9" y1="143.5" x2="660.9" y2="140.5" stroke="#262626" stroke-width="1.25"/>
<text x="660.9" y="158.4" text-anchor="middle" font-size="13">+20</text>
<text x="571.4" y="12.2" font-size="13">×10<tspan dy="-5.5" font-size="9.8">−25</tspan></text>
<text transform="translate(544.3,79.2) rotate(-90)" text-anchor="middle" font-size="13">Power (T<tspan dy="-5" font-size="9">2</tspan><tspan dy="5">/m)</tspan></text>
<path d="M604.1 31.6H619" stroke="#000" stroke-width="1.7"/><path d="M604.1 50H619" stroke="#d95319" stroke-width="1.7"/>
<text x="624.6" y="35.6" font-size="11.3">Baseline</text><text x="624.6" y="54.0" font-size="11.3">Post-tACS</text>
<polygon points="568.9,281.7 569.3,282.6 569.7,283.3 570.1,284.1 570.4,284.8 570.8,285.5 571.2,286.1 571.6,286.7 572.0,287.2 572.4,287.7 572.7,288.0 572.8,288.1 573.2,288.5 573.5,288.8 573.9,289.1 574.3,289.4 574.7,289.7 575.1,289.9 575.5,290.2 575.9,290.4 576.2,290.7 576.2,290.7 576.6,291.0 577.0,291.3 577.4,291.6 577.8,291.9 578.2,292.1 578.6,292.4 579.0,292.7 579.3,292.9 579.7,293.1 580.0,293.3 580.1,293.4 580.5,293.6 580.9,293.8 581.3,294.0 581.7,294.2 582.0,294.4 582.4,294.5 582.8,294.7 583.2,294.8 583.6,294.8 584.0,294.9 584.0,294.9 584.4,294.8 584.8,294.6 585.1,294.3 585.5,293.9 585.9,293.4 586.0,293.3 586.3,292.8 586.7,292.0 587.1,291.0 587.5,289.8 587.8,288.5 588.0,288.0 588.2,287.0 588.6,285.2 589.0,283.1 589.4,280.9 589.8,278.6 590.2,276.3 590.5,274.3 590.6,274.0 590.9,271.5 591.3,268.7 591.7,266.0 592.1,263.8 592.5,262.4 592.6,262.3 592.9,262.7 593.3,264.7 593.6,267.7 594.0,271.0 594.4,274.4 594.8,277.4 594.8,277.4 595.2,280.1 595.6,282.9 596.0,285.7 596.4,288.4 596.7,290.8 597.1,292.9 597.3,293.7 597.5,294.5 597.9,296.0 598.3,297.2 598.7,298.4 599.1,299.4 599.4,300.3 599.8,300.9 600.0,301.2 600.2,301.4 600.6,301.8 601.0,302.2 601.4,302.5 601.8,302.8 602.1,303.1 602.5,303.3 602.9,303.5 603.0,303.6 603.3,303.8 603.7,304.0 604.1,304.2 604.5,304.4 604.9,304.5 605.2,304.7 605.6,304.8 605.7,304.8 606.0,304.9 606.4,305.0 606.8,305.1 607.2,305.2 607.6,305.3 607.9,305.4 608.3,305.4 608.7,305.5 609.1,305.6 609.5,305.6 609.9,305.7 610.3,305.8 610.7,305.8 611.0,305.9 611.4,305.9 611.8,306.0 612.2,306.1 612.6,306.2 612.8,306.2 613.0,306.2 613.4,306.3 613.7,306.4 614.1,306.5 614.5,306.6 614.9,306.7 615.3,306.8 615.7,306.9 616.1,307.0 616.5,307.1 616.8,307.2 617.2,307.3 617.6,307.4 618.0,307.5 618.4,307.6 618.4,307.6 618.8,307.7 619.2,307.8 619.5,307.9 619.9,308.0 620.3,308.2 620.7,308.3 621.1,308.4 621.5,308.6 621.9,308.7 622.3,308.8 622.6,309.0 623.0,309.1 623.4,309.2 623.8,309.3 624.2,309.4 624.6,309.6 625.0,309.7 625.0,309.7 625.3,309.8 625.7,309.9 626.1,310.0 626.5,310.1 626.9,310.2 627.3,310.2 627.7,310.3 628.1,310.4 628.4,310.5 628.8,310.6 629.2,310.7 629.6,310.8 630.0,310.9 630.4,311.0 630.8,311.0 631.1,311.1 631.5,311.2 631.9,311.3 632.3,311.4 632.7,311.4 633.1,311.5 633.5,311.6 633.9,311.7 634.2,311.7 634.6,311.8 635.0,311.9 635.0,311.9 635.4,312.0 635.8,312.0 636.2,312.1 636.6,312.2 636.9,312.2 637.3,312.3 637.7,312.4 638.1,312.5 638.5,312.5 638.9,312.6 639.3,312.7 639.7,312.7 640.0,312.8 640.4,312.8 640.8,312.9 641.2,313.0 641.6,313.0 642.0,313.1 642.4,313.1 642.7,313.2 643.1,313.2 643.4,313.2 643.5,313.3 643.9,313.3 644.3,313.3 644.7,313.4 645.1,313.4 645.5,313.4 645.8,313.5 646.2,313.5 646.6,313.5 647.0,313.6 647.4,313.6 647.8,313.6 648.2,313.7 648.5,313.7 648.9,313.7 649.3,313.7 649.7,313.8 650.1,313.8 650.5,313.8 650.9,313.8 651.3,313.9 651.6,313.9 652.0,313.9 652.4,313.9 652.8,313.9 653.2,314.0 653.6,314.0 654.0,314.0 654.3,314.0 654.7,314.1 655.1,314.1 655.5,314.1 655.9,314.1 656.3,314.2 656.7,314.2 657.0,314.2 657.4,314.2 657.8,314.3 658.2,314.3 658.6,314.3 659.0,314.3 659.4,314.4 659.8,314.4 660.1,314.4 660.5,314.5 660.9,314.5 660.9,314.5 661.3,314.5 661.7,314.6 662.1,314.6 662.5,314.6 662.8,314.7 663.2,314.7 663.6,314.7 664.0,314.8 664.4,314.8 664.8,314.9 665.2,314.9 665.6,314.9 665.9,315.0 666.3,315.0 666.7,315.1 667.1,315.1 667.5,315.1 667.9,315.2 668.3,315.2 668.6,315.3 669.0,315.3 669.4,315.3 669.8,315.4 670.2,315.4 670.6,315.5 671.0,315.5 671.4,315.6 671.7,315.6 672.1,315.7 672.5,315.7 672.9,315.8 673.3,315.8 673.7,315.9 674.1,315.9 674.4,316.0 674.8,316.0 675.2,316.1 675.4,316.1 675.6,316.1 676.0,316.2 676.4,316.2 676.8,316.3 677.2,316.3 677.5,316.4 677.9,316.4 678.3,316.5 678.7,316.6 679.1,316.6 679.5,316.7 679.9,316.7 680.2,316.8 680.6,316.9 681.0,316.9 681.4,317.0 681.8,317.1 682.2,317.1 682.6,317.2 683.0,317.3 683.3,317.3 683.7,317.4 684.1,317.5 684.5,317.5 684.5,317.7 684.1,317.6 683.7,317.5 683.3,317.5 683.0,317.4 682.6,317.3 682.2,317.3 681.8,317.2 681.4,317.2 681.0,317.1 680.6,317.0 680.2,317.0 679.9,316.9 679.5,316.9 679.1,316.8 678.7,316.8 678.3,316.7 677.9,316.6 677.5,316.6 677.2,316.5 676.8,316.5 676.4,316.4 676.0,316.4 675.6,316.3 675.4,316.3 675.2,316.3 674.8,316.3 674.4,316.2 674.1,316.2 673.7,316.1 673.3,316.1 672.9,316.0 672.5,316.0 672.1,316.0 671.7,315.9 671.4,315.9 671.0,315.8 670.6,315.8 670.2,315.7 669.8,315.7 669.4,315.7 669.0,315.6 668.6,315.6 668.3,315.5 667.9,315.5 667.5,315.5 667.1,315.4 666.7,315.4 666.3,315.4 665.9,315.3 665.6,315.3 665.2,315.3 664.8,315.2 664.4,315.2 664.0,315.2 663.6,315.1 663.2,315.1 662.8,315.1 662.5,315.0 662.1,315.0 661.7,315.0 661.3,314.9 660.9,314.9 660.9,314.9 660.5,314.9 660.1,314.8 659.8,314.8 659.4,314.8 659.0,314.8 658.6,314.7 658.2,314.7 657.8,314.7 657.4,314.7 657.0,314.6 656.7,314.6 656.3,314.6 655.9,314.6 655.5,314.5 655.1,314.5 654.7,314.5 654.3,314.5 654.0,314.5 653.6,314.4 653.2,314.4 652.8,314.4 652.4,314.4 652.0,314.4 651.6,314.3 651.3,314.3 650.9,314.3 650.5,314.3 650.1,314.2 649.7,314.2 649.3,314.2 648.9,314.2 648.5,314.2 648.2,314.1 647.8,314.1 647.4,314.1 647.0,314.1 646.6,314.0 646.2,314.0 645.8,314.0 645.5,313.9 645.1,313.9 644.7,313.9 644.3,313.8 643.9,313.8 643.5,313.8 643.4,313.8 643.1,313.7 642.7,313.7 642.4,313.7 642.0,313.6 641.6,313.6 641.2,313.5 640.8,313.5 640.4,313.4 640.0,313.3 639.7,313.3 639.3,313.2 638.9,313.2 638.5,313.1 638.1,313.0 637.7,313.0 637.3,312.9 636.9,312.9 636.6,312.8 636.2,312.7 635.8,312.7 635.4,312.6 635.0,312.5 635.0,312.5 634.6,312.5 634.2,312.4 633.9,312.3 633.5,312.3 633.1,312.2 632.7,312.1 632.3,312.1 631.9,312.0 631.5,311.9 631.1,311.8 630.8,311.8 630.4,311.7 630.0,311.6 629.6,311.5 629.2,311.5 628.8,311.4 628.4,311.3 628.1,311.2 627.7,311.1 627.3,311.0 626.9,311.0 626.5,310.9 626.1,310.8 625.7,310.7 625.3,310.6 625.0,310.5 625.0,310.5 624.6,310.4 624.2,310.3 623.8,310.2 623.4,310.1 623.0,310.0 622.6,309.9 622.3,309.8 621.9,309.6 621.5,309.5 621.1,309.4 620.7,309.3 620.3,309.2 619.9,309.0 619.5,308.9 619.2,308.8 618.8,308.7 618.4,308.6 618.4,308.6 618.0,308.5 617.6,308.4 617.2,308.3 616.8,308.3 616.5,308.2 616.1,308.1 615.7,308.0 615.3,307.9 614.9,307.8 614.5,307.7 614.1,307.7 613.7,307.6 613.4,307.5 613.0,307.4 612.8,307.4 612.6,307.4 612.2,307.3 611.8,307.2 611.4,307.2 611.0,307.1 610.7,307.0 610.3,307.0 609.9,306.9 609.5,306.9 609.1,306.8 608.7,306.8 608.3,306.7 607.9,306.6 607.6,306.6 607.2,306.5 606.8,306.4 606.4,306.3 606.0,306.2 605.7,306.2 605.6,306.1 605.2,306.0 604.9,305.9 604.5,305.7 604.1,305.6 603.7,305.4 603.3,305.2 603.0,305.0 602.9,305.0 602.5,304.8 602.1,304.6 601.8,304.3 601.4,304.1 601.0,303.8 600.6,303.4 600.2,303.1 600.0,302.8 599.8,302.6 599.4,302.0 599.1,301.2 598.7,300.3 598.3,299.3 597.9,298.1 597.5,296.9 597.3,296.3 597.1,295.7 596.7,294.3 596.4,292.5 596.0,290.6 595.6,288.5 595.2,286.5 594.8,284.6 594.8,284.6 594.4,282.5 594.0,280.0 593.6,277.6 593.3,275.6 592.9,274.4 592.6,274.1 592.5,274.1 592.1,274.6 591.7,276.0 591.3,277.8 590.9,279.8 590.6,281.5 590.5,281.7 590.2,283.0 589.8,284.5 589.4,286.1 589.0,287.7 588.6,289.1 588.2,290.4 588.0,291.0 587.8,291.5 587.5,292.6 587.1,293.6 586.7,294.6 586.3,295.3 586.0,295.7 585.9,295.8 585.5,296.2 585.1,296.6 584.8,296.9 584.4,297.1 584.0,297.1 584.0,297.1 583.6,297.1 583.2,297.0 582.8,296.9 582.4,296.8 582.0,296.7 581.7,296.5 581.3,296.3 580.9,296.1 580.5,295.9 580.1,295.8 580.0,295.7 579.7,295.6 579.3,295.4 579.0,295.2 578.6,294.9 578.2,294.7 577.8,294.4 577.4,294.1 577.0,293.9 576.6,293.6 576.2,293.4 576.2,293.3 575.9,293.1 575.5,292.9 575.1,292.7 574.7,292.4 574.3,292.2 573.9,291.9 573.5,291.7 573.2,291.4 572.8,291.0 572.7,291.0 572.4,290.6 572.0,290.2 571.6,289.7 571.2,289.2 570.8,288.6 570.4,288.0 570.1,287.4 569.7,286.7 569.3,286.0 568.9,285.3" fill="#000" fill-opacity="0.13" stroke="#000" stroke-opacity="0.85" stroke-width="0.7" stroke-linejoin="round"/>
<polyline points="568.9,283.5 569.3,284.3 569.7,285.0 570.1,285.7 570.4,286.4 570.8,287.1 571.2,287.7 571.6,288.2 572.0,288.7 572.4,289.2 572.7,289.5 572.8,289.6 573.2,289.9 573.5,290.2 573.9,290.5 574.3,290.8 574.7,291.0 575.1,291.3 575.5,291.5 575.9,291.8 576.2,292.0 576.2,292.0 576.6,292.3 577.0,292.6 577.4,292.9 577.8,293.1 578.2,293.4 578.6,293.7 579.0,293.9 579.3,294.1 579.7,294.4 580.0,294.5 580.1,294.6 580.5,294.7 580.9,294.9 581.3,295.1 581.7,295.3 582.0,295.5 582.4,295.7 582.8,295.8 583.2,295.9 583.6,296.0 584.0,296.0 584.0,296.0 584.4,295.9 584.8,295.7 585.1,295.4 585.5,295.0 585.9,294.6 586.0,294.5 586.3,294.1 586.7,293.3 587.1,292.3 587.5,291.2 587.8,290.0 588.0,289.5 588.2,288.7 588.6,287.2 589.0,285.4 589.4,283.5 589.8,281.5 590.2,279.6 590.5,278.0 590.6,277.8 590.9,275.6 591.3,273.2 591.7,271.0 592.1,269.2 592.5,268.3 592.6,268.2 592.9,268.6 593.3,270.2 593.6,272.6 594.0,275.5 594.4,278.5 594.8,281.0 594.8,281.0 595.2,283.3 595.6,285.7 596.0,288.1 596.4,290.5 596.7,292.5 597.1,294.3 597.3,295.0 597.5,295.7 597.9,297.0 598.3,298.3 598.7,299.4 599.1,300.3 599.4,301.1 599.8,301.8 600.0,302.0 600.2,302.2 600.6,302.6 601.0,303.0 601.4,303.3 601.8,303.6 602.1,303.8 602.5,304.0 602.9,304.3 603.0,304.3 603.3,304.5 603.7,304.7 604.1,304.9 604.5,305.0 604.9,305.2 605.2,305.4 605.6,305.5 605.7,305.5 606.0,305.6 606.4,305.7 606.8,305.8 607.2,305.9 607.6,305.9 607.9,306.0 608.3,306.1 608.7,306.1 609.1,306.2 609.5,306.3 609.9,306.3 610.3,306.4 610.7,306.4 611.0,306.5 611.4,306.5 611.8,306.6 612.2,306.7 612.6,306.8 612.8,306.8 613.0,306.8 613.4,306.9 613.7,307.0 614.1,307.1 614.5,307.2 614.9,307.3 615.3,307.3 615.7,307.4 616.1,307.5 616.5,307.6 616.8,307.7 617.2,307.8 617.6,307.9 618.0,308.0 618.4,308.1 618.4,308.1 618.8,308.2 619.2,308.3 619.5,308.4 619.9,308.5 620.3,308.7 620.7,308.8 621.1,308.9 621.5,309.0 621.9,309.2 622.3,309.3 622.6,309.4 623.0,309.5 623.4,309.7 623.8,309.8 624.2,309.9 624.6,310.0 625.0,310.1 625.0,310.1 625.3,310.2 625.7,310.3 626.1,310.4 626.5,310.5 626.9,310.6 627.3,310.6 627.7,310.7 628.1,310.8 628.4,310.9 628.8,311.0 629.2,311.1 629.6,311.2 630.0,311.2 630.4,311.3 630.8,311.4 631.1,311.5 631.5,311.6 631.9,311.6 632.3,311.7 632.7,311.8 633.1,311.8 633.5,311.9 633.9,312.0 634.2,312.1 634.6,312.1 635.0,312.2 635.0,312.2 635.4,312.3 635.8,312.3 636.2,312.4 636.6,312.5 636.9,312.5 637.3,312.6 637.7,312.7 638.1,312.7 638.5,312.8 638.9,312.9 639.3,312.9 639.7,313.0 640.0,313.1 640.4,313.1 640.8,313.2 641.2,313.2 641.6,313.3 642.0,313.3 642.4,313.4 642.7,313.4 643.1,313.5 643.4,313.5 643.5,313.5 643.9,313.5 644.3,313.6 644.7,313.6 645.1,313.7 645.5,313.7 645.8,313.7 646.2,313.7 646.6,313.8 647.0,313.8 647.4,313.8 647.8,313.9 648.2,313.9 648.5,313.9 648.9,313.9 649.3,314.0 649.7,314.0 650.1,314.0 650.5,314.0 650.9,314.1 651.3,314.1 651.6,314.1 652.0,314.1 652.4,314.2 652.8,314.2 653.2,314.2 653.6,314.2 654.0,314.2 654.3,314.3 654.7,314.3 655.1,314.3 655.5,314.3 655.9,314.4 656.3,314.4 656.7,314.4 657.0,314.4 657.4,314.4 657.8,314.5 658.2,314.5 658.6,314.5 659.0,314.6 659.4,314.6 659.8,314.6 660.1,314.6 660.5,314.7 660.9,314.7 660.9,314.7 661.3,314.7 661.7,314.8 662.1,314.8 662.5,314.8 662.8,314.9 663.2,314.9 663.6,314.9 664.0,315.0 664.4,315.0 664.8,315.0 665.2,315.1 665.6,315.1 665.9,315.2 666.3,315.2 666.7,315.2 667.1,315.3 667.5,315.3 667.9,315.3 668.3,315.4 668.6,315.4 669.0,315.5 669.4,315.5 669.8,315.5 670.2,315.6 670.6,315.6 671.0,315.7 671.4,315.7 671.7,315.8 672.1,315.8 672.5,315.9 672.9,315.9 673.3,315.9 673.7,316.0 674.1,316.0 674.4,316.1 674.8,316.1 675.2,316.2 675.4,316.2 675.6,316.2 676.0,316.3 676.4,316.3 676.8,316.4 677.2,316.4 677.5,316.5 677.9,316.5 678.3,316.6 678.7,316.7 679.1,316.7 679.5,316.8 679.9,316.8 680.2,316.9 680.6,317.0 681.0,317.0 681.4,317.1 681.8,317.1 682.2,317.2 682.6,317.3 683.0,317.3 683.3,317.4 683.7,317.5 684.1,317.5 684.5,317.6" fill="none" stroke="#000" stroke-width="1.9" stroke-linejoin="round"/>
<polygon points="568.9,278.6 569.3,279.9 569.7,281.1 570.1,282.2 570.4,283.2 570.8,284.0 571.2,284.8 571.6,285.3 572.0,285.7 572.4,286.0 572.7,286.0 572.8,286.0 573.2,286.0 573.5,285.9 573.9,285.8 574.3,285.7 574.5,285.6 574.7,285.5 575.1,285.2 575.5,284.8 575.9,284.6 576.0,284.6 576.2,284.7 576.6,285.2 577.0,286.0 577.4,286.8 577.5,287.0 577.8,287.5 578.2,288.3 578.6,289.0 579.0,289.6 579.0,289.6 579.3,289.9 579.7,290.3 580.1,290.6 580.5,290.8 580.9,291.0 581.3,291.2 581.5,291.3 581.7,291.4 582.0,291.5 582.4,291.6 582.8,291.7 583.2,291.8 583.6,291.9 584.0,291.9 584.0,291.9 584.4,291.8 584.8,291.4 585.1,290.8 585.5,290.1 585.8,289.6 585.9,289.4 586.3,288.6 586.7,287.7 587.1,286.6 587.5,285.4 587.5,285.3 587.8,284.0 588.2,282.1 588.6,279.9 589.0,277.5 589.4,275.0 589.8,272.5 590.2,270.0 590.3,269.2 590.6,267.6 590.9,264.8 591.3,261.9 591.7,259.0 592.1,256.6 592.5,254.7 592.8,254.2 592.9,254.4 593.3,256.0 593.6,258.9 594.0,262.5 594.4,266.5 594.8,270.3 595.2,273.7 595.2,273.8 595.6,276.7 596.0,279.7 596.4,282.7 596.7,285.5 597.1,288.2 597.5,290.5 597.9,292.3 598.0,292.7 598.3,293.7 598.7,295.0 599.1,296.1 599.4,297.2 599.8,298.2 600.2,299.0 600.6,299.7 600.8,300.0 601.0,300.3 601.4,300.8 601.8,301.2 602.1,301.5 602.5,301.9 602.9,302.2 603.0,302.2 603.3,302.4 603.7,302.7 604.1,302.9 604.5,303.1 604.9,303.3 605.2,303.5 605.6,303.7 605.7,303.7 606.0,303.8 606.4,303.9 606.8,304.0 607.2,304.1 607.6,304.2 607.9,304.3 608.3,304.3 608.7,304.4 609.1,304.5 609.5,304.5 609.9,304.6 610.3,304.7 610.7,304.7 611.0,304.8 611.4,304.9 611.8,304.9 612.2,305.0 612.6,305.1 612.8,305.2 613.0,305.2 613.4,305.3 613.7,305.4 614.1,305.5 614.5,305.6 614.9,305.7 615.3,305.8 615.7,305.9 616.1,306.0 616.5,306.1 616.8,306.2 617.2,306.3 617.6,306.4 618.0,306.5 618.4,306.6 618.4,306.6 618.8,306.7 619.2,306.9 619.5,307.0 619.9,307.1 620.3,307.2 620.7,307.3 621.1,307.4 621.5,307.6 621.9,307.7 622.3,307.8 622.6,307.9 623.0,308.1 623.4,308.2 623.8,308.4 624.2,308.5 624.6,308.7 625.0,308.8 625.0,308.8 625.3,309.0 625.7,309.2 626.1,309.4 626.3,309.5 626.5,309.5 626.9,309.6 627.3,309.8 627.7,309.9 628.1,310.0 628.4,310.0 628.8,310.1 629.2,310.2 629.6,310.3 630.0,310.4 630.4,310.4 630.8,310.5 631.1,310.6 631.5,310.7 631.9,310.7 632.3,310.8 632.7,310.8 633.1,310.9 633.5,311.0 633.9,311.0 634.2,311.1 634.6,311.2 635.0,311.2 635.0,311.2 635.4,311.3 635.8,311.4 636.2,311.5 636.6,311.5 636.9,311.6 637.3,311.7 637.7,311.8 638.1,311.9 638.5,311.9 638.9,312.0 639.3,312.1 639.7,312.2 640.0,312.2 640.4,312.3 640.8,312.4 641.2,312.4 641.6,312.5 642.0,312.5 642.4,312.6 642.7,312.6 643.1,312.7 643.4,312.7 643.5,312.7 643.9,312.8 644.3,312.8 644.7,312.8 645.1,312.9 645.5,312.9 645.8,312.9 646.2,313.0 646.6,313.0 647.0,313.0 647.4,313.0 647.8,313.1 648.2,313.1 648.5,313.1 648.9,313.1 649.3,313.2 649.7,313.2 650.1,313.2 650.5,313.2 650.9,313.3 651.3,313.3 651.6,313.3 652.0,313.3 652.0,313.3 652.4,313.4 652.8,313.4 653.2,313.4 653.6,313.5 654.0,313.5 654.3,313.5 654.7,313.6 655.1,313.6 655.5,313.6 655.9,313.7 656.3,313.7 656.7,313.7 657.0,313.7 657.4,313.8 657.8,313.8 658.2,313.8 658.6,313.9 659.0,313.9 659.4,313.9 659.8,314.0 660.1,314.0 660.5,314.0 660.9,314.1 660.9,314.1 661.3,314.1 661.7,314.2 662.1,314.2 662.5,314.2 662.8,314.3 663.2,314.3 663.6,314.3 664.0,314.4 664.4,314.4 664.8,314.5 665.2,314.5 665.6,314.5 665.9,314.6 666.3,314.6 666.7,314.7 667.1,314.7 667.5,314.8 667.9,314.8 668.0,314.8 668.3,314.8 668.6,314.9 669.0,314.9 669.4,315.0 669.8,315.0 670.2,315.1 670.6,315.1 671.0,315.2 671.4,315.2 671.7,315.3 672.1,315.3 672.5,315.4 672.9,315.4 673.3,315.5 673.7,315.5 674.1,315.6 674.4,315.6 674.8,315.7 675.2,315.7 675.4,315.8 675.6,315.8 676.0,315.8 676.4,315.9 676.8,316.0 677.2,316.0 677.5,316.1 677.9,316.1 678.3,316.2 678.7,316.3 679.1,316.3 679.5,316.4 679.9,316.5 680.2,316.5 680.6,316.6 681.0,316.7 681.4,316.7 681.8,316.8 682.2,316.9 682.6,317.0 683.0,317.0 683.3,317.1 683.7,317.2 684.1,317.3 684.5,317.3 684.5,317.5 684.1,317.4 683.7,317.3 683.3,317.3 683.0,317.2 682.6,317.1 682.2,317.1 681.8,317.0 681.4,316.9 681.0,316.9 680.6,316.8 680.2,316.7 679.9,316.7 679.5,316.6 679.1,316.6 678.7,316.5 678.3,316.4 677.9,316.4 677.5,316.3 677.2,316.3 676.8,316.2 676.4,316.2 676.0,316.1 675.6,316.1 675.4,316.0 675.2,316.0 674.8,316.0 674.4,315.9 674.1,315.9 673.7,315.8 673.3,315.8 672.9,315.7 672.5,315.7 672.1,315.6 671.7,315.6 671.4,315.5 671.0,315.5 670.6,315.5 670.2,315.4 669.8,315.4 669.4,315.3 669.0,315.3 668.6,315.3 668.3,315.2 668.0,315.2 667.9,315.2 667.5,315.1 667.1,315.1 666.7,315.1 666.3,315.0 665.9,315.0 665.6,314.9 665.2,314.9 664.8,314.9 664.4,314.8 664.0,314.8 663.6,314.8 663.2,314.7 662.8,314.7 662.5,314.7 662.1,314.6 661.7,314.6 661.3,314.6 660.9,314.5 660.9,314.5 660.5,314.5 660.1,314.5 659.8,314.4 659.4,314.4 659.0,314.4 658.6,314.3 658.2,314.3 657.8,314.3 657.4,314.2 657.0,314.2 656.7,314.2 656.3,314.2 655.9,314.1 655.5,314.1 655.1,314.1 654.7,314.0 654.3,314.0 654.0,314.0 653.6,314.0 653.2,313.9 652.8,313.9 652.4,313.9 652.0,313.9 652.0,313.9 651.6,313.8 651.3,313.8 650.9,313.8 650.5,313.8 650.1,313.7 649.7,313.7 649.3,313.7 648.9,313.7 648.5,313.6 648.2,313.6 647.8,313.6 647.4,313.6 647.0,313.6 646.6,313.5 646.2,313.5 645.8,313.5 645.5,313.5 645.1,313.4 644.7,313.4 644.3,313.4 643.9,313.3 643.5,313.3 643.4,313.3 643.1,313.3 642.7,313.2 642.4,313.2 642.0,313.1 641.6,313.1 641.2,313.0 640.8,313.0 640.4,312.9 640.0,312.8 639.7,312.8 639.3,312.7 638.9,312.6 638.5,312.6 638.1,312.5 637.7,312.4 637.3,312.4 636.9,312.3 636.6,312.2 636.2,312.2 635.8,312.1 635.4,312.0 635.0,312.0 635.0,312.0 634.6,311.9 634.2,311.8 633.9,311.8 633.5,311.7 633.1,311.6 632.7,311.6 632.3,311.5 631.9,311.5 631.5,311.4 631.1,311.4 630.8,311.3 630.4,311.2 630.0,311.2 629.6,311.1 629.2,311.0 628.8,310.9 628.4,310.9 628.1,310.8 627.7,310.7 627.3,310.6 626.9,310.5 626.5,310.4 626.3,310.3 626.1,310.3 625.7,310.1 625.3,309.9 625.0,309.8 625.0,309.8 624.6,309.6 624.2,309.5 623.8,309.3 623.4,309.2 623.0,309.1 622.6,309.0 622.3,308.8 621.9,308.7 621.5,308.6 621.1,308.5 620.7,308.4 620.3,308.3 619.9,308.2 619.5,308.1 619.2,308.0 618.8,307.9 618.4,307.8 618.4,307.8 618.0,307.7 617.6,307.6 617.2,307.5 616.8,307.4 616.5,307.3 616.1,307.2 615.7,307.1 615.3,307.0 614.9,306.9 614.5,306.8 614.1,306.7 613.7,306.6 613.4,306.6 613.0,306.5 612.8,306.4 612.6,306.4 612.2,306.3 611.8,306.3 611.4,306.2 611.0,306.1 610.7,306.1 610.3,306.0 609.9,305.9 609.5,305.9 609.1,305.8 608.7,305.8 608.3,305.7 607.9,305.6 607.6,305.6 607.2,305.5 606.8,305.4 606.4,305.3 606.0,305.2 605.7,305.1 605.6,305.1 605.2,305.0 604.9,304.8 604.5,304.6 604.1,304.4 603.7,304.2 603.3,304.0 603.0,303.8 602.9,303.7 602.5,303.5 602.1,303.2 601.8,302.8 601.4,302.5 601.0,302.0 600.8,301.8 600.6,301.5 600.2,300.9 599.8,300.1 599.4,299.3 599.1,298.3 598.7,297.2 598.3,296.0 598.0,295.1 597.9,294.8 597.5,293.3 597.1,291.8 596.7,290.1 596.4,288.3 596.0,286.5 595.6,284.7 595.2,283.0 595.2,283.0 594.8,281.0 594.4,278.6 594.0,276.1 593.6,274.0 593.3,272.6 592.9,272.3 592.8,272.4 592.5,272.5 592.1,273.0 591.7,274.0 591.3,275.4 590.9,276.9 590.6,278.4 590.3,279.2 590.2,279.6 589.8,280.8 589.4,282.2 589.0,283.6 588.6,284.9 588.2,286.2 587.8,287.4 587.5,288.5 587.5,288.6 587.1,289.7 586.7,290.6 586.3,291.5 585.9,292.2 585.8,292.4 585.5,292.8 585.1,293.4 584.8,294.0 584.4,294.3 584.0,294.5 584.0,294.5 583.6,294.4 583.2,294.4 582.8,294.3 582.4,294.2 582.0,294.1 581.7,294.0 581.5,293.9 581.3,293.8 580.9,293.7 580.5,293.5 580.1,293.2 579.7,293.0 579.3,292.7 579.0,292.4 579.0,292.3 578.6,291.8 578.2,291.2 577.8,290.5 577.5,290.0 577.4,289.9 577.0,289.1 576.6,288.4 576.2,287.9 576.0,287.8 575.9,287.8 575.5,288.1 575.1,288.4 574.7,288.7 574.5,288.8 574.3,288.8 573.9,288.9 573.5,289.0 573.2,289.1 572.8,289.1 572.7,289.2 572.4,289.1 572.0,288.9 571.6,288.5 571.2,288.0 570.8,287.3 570.4,286.5 570.1,285.7 569.7,284.7 569.3,283.6 568.9,282.4" fill="#0072bd" fill-opacity="0.3" stroke="#0072bd" stroke-opacity="0.85" stroke-width="0.7" stroke-linejoin="round"/>
<polyline points="568.9,280.5 569.3,281.7 569.7,282.9 570.1,283.9 570.4,284.9 570.8,285.7 571.2,286.4 571.6,286.9 572.0,287.3 572.4,287.5 572.7,287.6 572.8,287.6 573.2,287.6 573.5,287.5 573.9,287.4 574.3,287.3 574.5,287.2 574.7,287.1 575.1,286.8 575.5,286.4 575.9,286.2 576.0,286.2 576.2,286.3 576.6,286.8 577.0,287.6 577.4,288.3 577.5,288.5 577.8,289.0 578.2,289.7 578.6,290.4 579.0,291.0 579.0,291.0 579.3,291.3 579.7,291.6 580.1,291.9 580.5,292.1 580.9,292.3 581.3,292.5 581.5,292.6 581.7,292.7 582.0,292.8 582.4,292.9 582.8,293.0 583.2,293.1 583.6,293.2 584.0,293.2 584.0,293.2 584.4,293.1 584.8,292.7 585.1,292.1 585.5,291.5 585.8,291.0 585.9,290.8 586.3,290.1 586.7,289.2 587.1,288.2 587.5,287.0 587.5,286.9 587.8,285.7 588.2,284.2 588.6,282.4 589.0,280.5 589.4,278.6 589.8,276.7 590.2,274.8 590.3,274.2 590.6,273.0 590.9,270.9 591.3,268.6 591.7,266.5 592.1,264.8 592.5,263.6 592.8,263.3 592.9,263.3 593.3,264.3 593.6,266.5 594.0,269.3 594.4,272.5 594.8,275.7 595.2,278.3 595.2,278.4 595.6,280.7 596.0,283.1 596.4,285.5 596.7,287.8 597.1,290.0 597.5,291.9 597.9,293.5 598.0,293.9 598.3,294.9 598.7,296.1 599.1,297.2 599.4,298.2 599.8,299.2 600.2,299.9 600.6,300.6 600.8,300.9 601.0,301.1 601.4,301.6 601.8,302.0 602.1,302.4 602.5,302.7 602.9,302.9 603.0,303.0 603.3,303.2 603.7,303.5 604.1,303.7 604.5,303.9 604.9,304.1 605.2,304.2 605.6,304.4 605.7,304.4 606.0,304.5 606.4,304.6 606.8,304.7 607.2,304.8 607.6,304.9 607.9,304.9 608.3,305.0 608.7,305.1 609.1,305.2 609.5,305.2 609.9,305.3 610.3,305.3 610.7,305.4 611.0,305.5 611.4,305.5 611.8,305.6 612.2,305.7 612.6,305.8 612.8,305.8 613.0,305.8 613.4,305.9 613.7,306.0 614.1,306.1 614.5,306.2 614.9,306.3 615.3,306.4 615.7,306.5 616.1,306.6 616.5,306.7 616.8,306.8 617.2,306.9 617.6,307.0 618.0,307.1 618.4,307.2 618.4,307.2 618.8,307.3 619.2,307.4 619.5,307.5 619.9,307.6 620.3,307.7 620.7,307.9 621.1,308.0 621.5,308.1 621.9,308.2 622.3,308.3 622.6,308.5 623.0,308.6 623.4,308.7 623.8,308.9 624.2,309.0 624.6,309.1 625.0,309.3 625.0,309.3 625.3,309.5 625.7,309.7 626.1,309.8 626.3,309.9 626.5,310.0 626.9,310.1 627.3,310.2 627.7,310.3 628.1,310.4 628.4,310.5 628.8,310.5 629.2,310.6 629.6,310.7 630.0,310.8 630.4,310.8 630.8,310.9 631.1,311.0 631.5,311.0 631.9,311.1 632.3,311.2 632.7,311.2 633.1,311.3 633.5,311.3 633.9,311.4 634.2,311.5 634.6,311.5 635.0,311.6 635.0,311.6 635.4,311.7 635.8,311.7 636.2,311.8 636.6,311.9 636.9,312.0 637.3,312.0 637.7,312.1 638.1,312.2 638.5,312.3 638.9,312.3 639.3,312.4 639.7,312.5 640.0,312.5 640.4,312.6 640.8,312.7 641.2,312.7 641.6,312.8 642.0,312.8 642.4,312.9 642.7,312.9 643.1,313.0 643.4,313.0 643.5,313.0 643.9,313.0 644.3,313.1 644.7,313.1 645.1,313.1 645.5,313.2 645.8,313.2 646.2,313.2 646.6,313.3 647.0,313.3 647.4,313.3 647.8,313.3 648.2,313.4 648.5,313.4 648.9,313.4 649.3,313.4 649.7,313.4 650.1,313.5 650.5,313.5 650.9,313.5 651.3,313.5 651.6,313.6 652.0,313.6 652.0,313.6 652.4,313.6 652.8,313.7 653.2,313.7 653.6,313.7 654.0,313.7 654.3,313.8 654.7,313.8 655.1,313.8 655.5,313.9 655.9,313.9 656.3,313.9 656.7,314.0 657.0,314.0 657.4,314.0 657.8,314.0 658.2,314.1 658.6,314.1 659.0,314.1 659.4,314.2 659.8,314.2 660.1,314.2 660.5,314.3 660.9,314.3 660.9,314.3 661.3,314.3 661.7,314.4 662.1,314.4 662.5,314.4 662.8,314.5 663.2,314.5 663.6,314.6 664.0,314.6 664.4,314.6 664.8,314.7 665.2,314.7 665.6,314.7 665.9,314.8 666.3,314.8 666.7,314.9 667.1,314.9 667.5,314.9 667.9,315.0 668.0,315.0 668.3,315.0 668.6,315.1 669.0,315.1 669.4,315.2 669.8,315.2 670.2,315.2 670.6,315.3 671.0,315.3 671.4,315.4 671.7,315.4 672.1,315.5 672.5,315.5 672.9,315.6 673.3,315.6 673.7,315.7 674.1,315.7 674.4,315.8 674.8,315.8 675.2,315.9 675.4,315.9 675.6,315.9 676.0,316.0 676.4,316.0 676.8,316.1 677.2,316.2 677.5,316.2 677.9,316.3 678.3,316.3 678.7,316.4 679.1,316.5 679.5,316.5 679.9,316.6 680.2,316.6 680.6,316.7 681.0,316.8 681.4,316.8 681.8,316.9 682.2,317.0 682.6,317.0 683.0,317.1 683.3,317.2 683.7,317.3 684.1,317.3 684.5,317.4" fill="none" stroke="#0072bd" stroke-width="2.2" stroke-linejoin="round"/>
<path d="M568.5 192.2V318.7H685" fill="none" stroke="#262626" stroke-width="1.25"/>
<text x="563.4" y="323.3" text-anchor="end" font-size="13">0</text>
<line x1="568.5" y1="282.6" x2="571.6" y2="282.6" stroke="#262626" stroke-width="1.25"/>
<text x="563.4" y="287.2" text-anchor="end" font-size="13">2</text>
<line x1="568.5" y1="246.5" x2="571.6" y2="246.5" stroke="#262626" stroke-width="1.25"/>
<text x="563.4" y="251.1" text-anchor="end" font-size="13">4</text>
<line x1="568.5" y1="210.4" x2="571.6" y2="210.4" stroke="#262626" stroke-width="1.25"/>
<text x="563.4" y="215.0" text-anchor="end" font-size="13">6</text>
<line x1="592.5" y1="318.7" x2="592.5" y2="315.7" stroke="#262626" stroke-width="1.25"/>
<text x="592.5" y="333.6" text-anchor="middle" font-size="13">IAF</text>
<line x1="626.4" y1="318.7" x2="626.4" y2="315.7" stroke="#262626" stroke-width="1.25"/>
<text x="626.4" y="333.6" text-anchor="middle" font-size="13">+10</text>
<line x1="660.9" y1="318.7" x2="660.9" y2="315.7" stroke="#262626" stroke-width="1.25"/>
<text x="660.9" y="333.6" text-anchor="middle" font-size="13">+20</text>
<text x="571.4" y="187.1" font-size="13">×10<tspan dy="-5.5" font-size="9.8">−25</tspan></text>
<text transform="translate(544.3,260.6) rotate(-90)" text-anchor="middle" font-size="13">Power (T<tspan dy="-5" font-size="9">2</tspan><tspan dy="5">/m)</tspan></text>
<path d="M602.6 207.2H617.3" stroke="#000" stroke-width="1.7"/><path d="M602.6 225.1H617.3" stroke="#0072bd" stroke-width="1.7"/>
<text x="622.9" y="211.2" font-size="11.3">Baseline</text><text x="622.9" y="229.1" font-size="11.3">Post-sham</text>
<text x="626.6" y="352.7" text-anchor="middle" font-size="13">Frequency (Hz)</text>
</svg></body></html>
